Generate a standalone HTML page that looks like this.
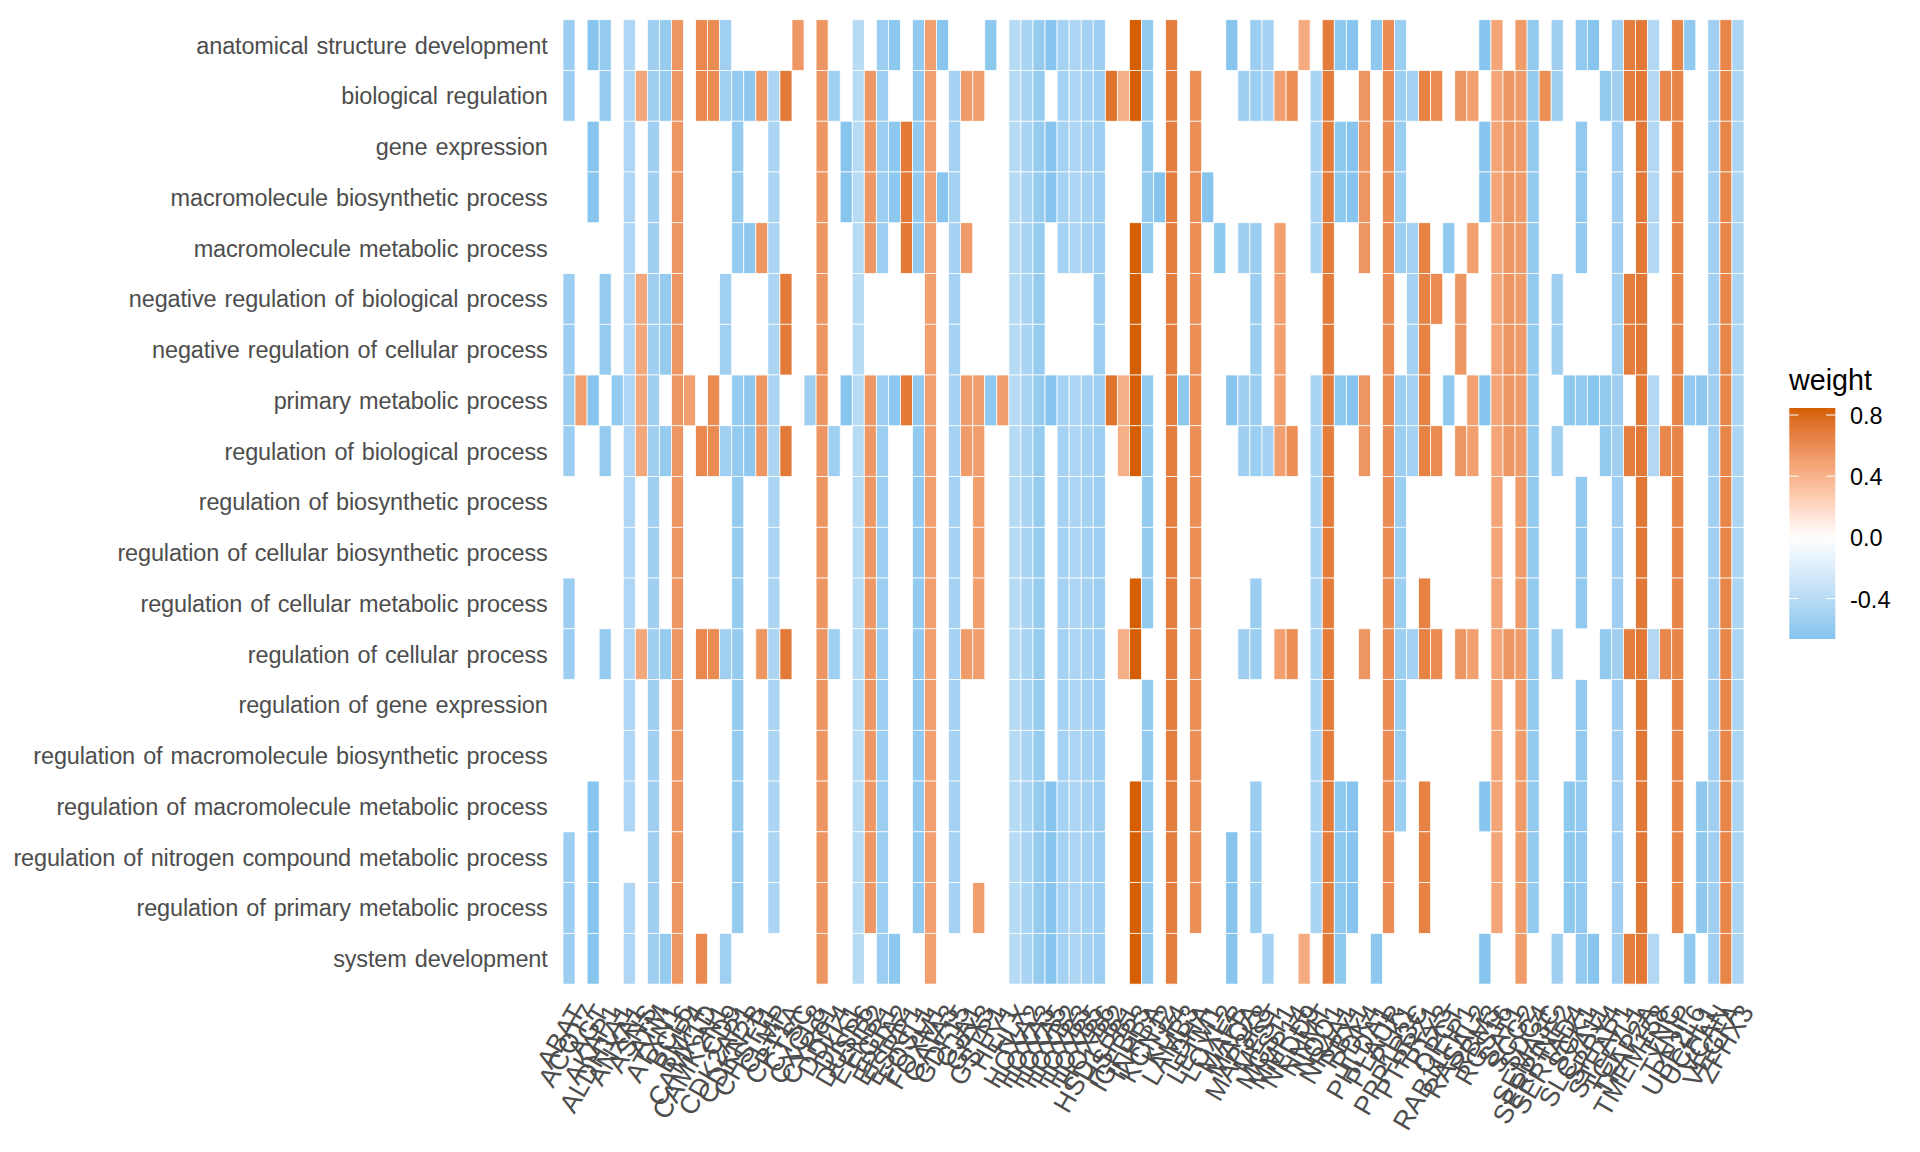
<!DOCTYPE html><html><head><meta charset="utf-8"><title>heatmap</title>
<style>html,body{margin:0;padding:0;background:#fff}svg{display:block}text{font-family:"Liberation Sans",Arial,Helvetica,sans-serif}</style></head><body>
<svg width="1920" height="1152" viewBox="0 0 1920 1152">
<rect width="1920" height="1152" fill="#fff"/>
<g stroke="#fff" stroke-width="0.75">
<rect x="563.00" y="19.70" width="12.05" height="50.76" fill="#9ccef1"/>
<rect x="587.10" y="19.70" width="12.05" height="50.76" fill="#87c5ee"/>
<rect x="599.15" y="19.70" width="12.05" height="50.76" fill="#96cbf0"/>
<rect x="623.26" y="19.70" width="12.05" height="50.76" fill="#afd6f4"/>
<rect x="647.36" y="19.70" width="12.05" height="50.76" fill="#a0cff2"/>
<rect x="659.41" y="19.70" width="12.05" height="50.76" fill="#96cbf0"/>
<rect x="671.46" y="19.70" width="12.05" height="50.76" fill="#ee9662"/>
<rect x="695.56" y="19.70" width="12.05" height="50.76" fill="#e9894f"/>
<rect x="707.61" y="19.70" width="12.05" height="50.76" fill="#ea8b51"/>
<rect x="719.66" y="19.70" width="12.05" height="50.76" fill="#a0cff2"/>
<rect x="791.97" y="19.70" width="12.05" height="50.76" fill="#ef9865"/>
<rect x="816.07" y="19.70" width="12.05" height="50.76" fill="#ee9662"/>
<rect x="852.22" y="19.70" width="12.05" height="50.76" fill="#b8dbf5"/>
<rect x="876.33" y="19.70" width="12.05" height="50.76" fill="#9ccef1"/>
<rect x="888.38" y="19.70" width="12.05" height="50.76" fill="#8dc8ef"/>
<rect x="912.48" y="19.70" width="12.05" height="50.76" fill="#93caf0"/>
<rect x="924.53" y="19.70" width="12.05" height="50.76" fill="#f2a070"/>
<rect x="936.58" y="19.70" width="12.05" height="50.76" fill="#87c5ee"/>
<rect x="984.79" y="19.70" width="12.05" height="50.76" fill="#8dc8ef"/>
<rect x="1008.89" y="19.70" width="12.05" height="50.76" fill="#b8dbf5"/>
<rect x="1020.94" y="19.70" width="12.05" height="50.76" fill="#a9d4f3"/>
<rect x="1032.99" y="19.70" width="12.05" height="50.76" fill="#96cbf0"/>
<rect x="1045.04" y="19.70" width="12.05" height="50.76" fill="#87c5ee"/>
<rect x="1057.09" y="19.70" width="12.05" height="50.76" fill="#a5d2f2"/>
<rect x="1069.14" y="19.70" width="12.05" height="50.76" fill="#abd5f3"/>
<rect x="1081.19" y="19.70" width="12.05" height="50.76" fill="#a5d2f2"/>
<rect x="1093.24" y="19.70" width="12.05" height="50.76" fill="#9ccef1"/>
<rect x="1129.40" y="19.70" width="12.05" height="50.76" fill="#d55e00"/>
<rect x="1141.45" y="19.70" width="12.05" height="50.76" fill="#93caf0"/>
<rect x="1165.55" y="19.70" width="12.05" height="50.76" fill="#e47e3e"/>
<rect x="1225.81" y="19.70" width="12.05" height="50.76" fill="#87c5ee"/>
<rect x="1249.91" y="19.70" width="12.05" height="50.76" fill="#9ccef1"/>
<rect x="1261.96" y="19.70" width="12.05" height="50.76" fill="#a5d2f2"/>
<rect x="1298.11" y="19.70" width="12.05" height="50.76" fill="#f5ab80"/>
<rect x="1322.21" y="19.70" width="12.05" height="50.76" fill="#e47c3b"/>
<rect x="1334.27" y="19.70" width="12.05" height="50.76" fill="#8dc8ef"/>
<rect x="1346.32" y="19.70" width="12.05" height="50.76" fill="#87c5ee"/>
<rect x="1370.42" y="19.70" width="12.05" height="50.76" fill="#8fc8ef"/>
<rect x="1382.47" y="19.70" width="12.05" height="50.76" fill="#eb8d54"/>
<rect x="1394.52" y="19.70" width="12.05" height="50.76" fill="#9ccef1"/>
<rect x="1478.88" y="19.70" width="12.05" height="50.76" fill="#87c5ee"/>
<rect x="1490.93" y="19.70" width="12.05" height="50.76" fill="#f4a578"/>
<rect x="1515.03" y="19.70" width="12.05" height="50.76" fill="#f09c6a"/>
<rect x="1527.08" y="19.70" width="12.05" height="50.76" fill="#93caf0"/>
<rect x="1551.18" y="19.70" width="12.05" height="50.76" fill="#a0cff2"/>
<rect x="1575.29" y="19.70" width="12.05" height="50.76" fill="#91c9f0"/>
<rect x="1587.34" y="19.70" width="12.05" height="50.76" fill="#87c5ee"/>
<rect x="1611.44" y="19.70" width="12.05" height="50.76" fill="#a0cff2"/>
<rect x="1623.49" y="19.70" width="12.05" height="50.76" fill="#e47e3e"/>
<rect x="1635.54" y="19.70" width="12.05" height="50.76" fill="#e27835"/>
<rect x="1647.59" y="19.70" width="12.05" height="50.76" fill="#b3d8f4"/>
<rect x="1671.69" y="19.70" width="12.05" height="50.76" fill="#e88549"/>
<rect x="1683.74" y="19.70" width="12.05" height="50.76" fill="#91c9f0"/>
<rect x="1707.85" y="19.70" width="12.05" height="50.76" fill="#a0cff2"/>
<rect x="1719.90" y="19.70" width="12.05" height="50.76" fill="#e88549"/>
<rect x="1731.95" y="19.70" width="12.05" height="50.76" fill="#abd5f3"/>
<rect x="563.00" y="70.46" width="12.05" height="50.76" fill="#9ccef1"/>
<rect x="599.15" y="70.46" width="12.05" height="50.76" fill="#96cbf0"/>
<rect x="623.26" y="70.46" width="12.05" height="50.76" fill="#afd6f4"/>
<rect x="635.31" y="70.46" width="12.05" height="50.76" fill="#f4a77b"/>
<rect x="647.36" y="70.46" width="12.05" height="50.76" fill="#a0cff2"/>
<rect x="659.41" y="70.46" width="12.05" height="50.76" fill="#96cbf0"/>
<rect x="671.46" y="70.46" width="12.05" height="50.76" fill="#ee9662"/>
<rect x="695.56" y="70.46" width="12.05" height="50.76" fill="#e9894f"/>
<rect x="707.61" y="70.46" width="12.05" height="50.76" fill="#ea8b51"/>
<rect x="719.66" y="70.46" width="12.05" height="50.76" fill="#a0cff2"/>
<rect x="731.71" y="70.46" width="12.05" height="50.76" fill="#96cbf0"/>
<rect x="743.77" y="70.46" width="12.05" height="50.76" fill="#8fc8ef"/>
<rect x="755.82" y="70.46" width="12.05" height="50.76" fill="#ee9662"/>
<rect x="767.87" y="70.46" width="12.05" height="50.76" fill="#abd5f3"/>
<rect x="779.92" y="70.46" width="12.05" height="50.76" fill="#e37a38"/>
<rect x="816.07" y="70.46" width="12.05" height="50.76" fill="#ee9662"/>
<rect x="828.12" y="70.46" width="12.05" height="50.76" fill="#9ecff1"/>
<rect x="852.22" y="70.46" width="12.05" height="50.76" fill="#b8dbf5"/>
<rect x="864.28" y="70.46" width="12.05" height="50.76" fill="#ef9865"/>
<rect x="876.33" y="70.46" width="12.05" height="50.76" fill="#9ccef1"/>
<rect x="912.48" y="70.46" width="12.05" height="50.76" fill="#93caf0"/>
<rect x="924.53" y="70.46" width="12.05" height="50.76" fill="#f2a070"/>
<rect x="948.63" y="70.46" width="12.05" height="50.76" fill="#a5d2f2"/>
<rect x="960.68" y="70.46" width="12.05" height="50.76" fill="#f09c6a"/>
<rect x="972.73" y="70.46" width="12.05" height="50.76" fill="#f19e6d"/>
<rect x="1008.89" y="70.46" width="12.05" height="50.76" fill="#b8dbf5"/>
<rect x="1020.94" y="70.46" width="12.05" height="50.76" fill="#a9d4f3"/>
<rect x="1032.99" y="70.46" width="12.05" height="50.76" fill="#96cbf0"/>
<rect x="1057.09" y="70.46" width="12.05" height="50.76" fill="#a5d2f2"/>
<rect x="1069.14" y="70.46" width="12.05" height="50.76" fill="#abd5f3"/>
<rect x="1081.19" y="70.46" width="12.05" height="50.76" fill="#a5d2f2"/>
<rect x="1093.24" y="70.46" width="12.05" height="50.76" fill="#9ccef1"/>
<rect x="1105.30" y="70.46" width="12.05" height="50.76" fill="#e0742f"/>
<rect x="1117.35" y="70.46" width="12.05" height="50.76" fill="#f6af86"/>
<rect x="1129.40" y="70.46" width="12.05" height="50.76" fill="#d55e00"/>
<rect x="1141.45" y="70.46" width="12.05" height="50.76" fill="#93caf0"/>
<rect x="1165.55" y="70.46" width="12.05" height="50.76" fill="#e47e3e"/>
<rect x="1189.65" y="70.46" width="12.05" height="50.76" fill="#ec8f57"/>
<rect x="1237.86" y="70.46" width="12.05" height="50.76" fill="#a0cff2"/>
<rect x="1249.91" y="70.46" width="12.05" height="50.76" fill="#9ccef1"/>
<rect x="1261.96" y="70.46" width="12.05" height="50.76" fill="#a5d2f2"/>
<rect x="1274.01" y="70.46" width="12.05" height="50.76" fill="#f2a070"/>
<rect x="1286.06" y="70.46" width="12.05" height="50.76" fill="#ec8f57"/>
<rect x="1310.16" y="70.46" width="12.05" height="50.76" fill="#a9d4f3"/>
<rect x="1322.21" y="70.46" width="12.05" height="50.76" fill="#e47c3b"/>
<rect x="1358.37" y="70.46" width="12.05" height="50.76" fill="#ee9662"/>
<rect x="1382.47" y="70.46" width="12.05" height="50.76" fill="#eb8d54"/>
<rect x="1394.52" y="70.46" width="12.05" height="50.76" fill="#9ccef1"/>
<rect x="1406.57" y="70.46" width="12.05" height="50.76" fill="#a5d2f2"/>
<rect x="1418.62" y="70.46" width="12.05" height="50.76" fill="#e68244"/>
<rect x="1430.67" y="70.46" width="12.05" height="50.76" fill="#ea8b51"/>
<rect x="1454.78" y="70.46" width="12.05" height="50.76" fill="#ee9662"/>
<rect x="1466.83" y="70.46" width="12.05" height="50.76" fill="#f2a070"/>
<rect x="1490.93" y="70.46" width="12.05" height="50.76" fill="#f4a578"/>
<rect x="1502.98" y="70.46" width="12.05" height="50.76" fill="#ee9662"/>
<rect x="1515.03" y="70.46" width="12.05" height="50.76" fill="#f09c6a"/>
<rect x="1527.08" y="70.46" width="12.05" height="50.76" fill="#93caf0"/>
<rect x="1539.13" y="70.46" width="12.05" height="50.76" fill="#ec8f57"/>
<rect x="1551.18" y="70.46" width="12.05" height="50.76" fill="#a0cff2"/>
<rect x="1599.39" y="70.46" width="12.05" height="50.76" fill="#93caf0"/>
<rect x="1611.44" y="70.46" width="12.05" height="50.76" fill="#a0cff2"/>
<rect x="1623.49" y="70.46" width="12.05" height="50.76" fill="#e47e3e"/>
<rect x="1635.54" y="70.46" width="12.05" height="50.76" fill="#e27835"/>
<rect x="1647.59" y="70.46" width="12.05" height="50.76" fill="#b3d8f4"/>
<rect x="1659.64" y="70.46" width="12.05" height="50.76" fill="#e9874c"/>
<rect x="1671.69" y="70.46" width="12.05" height="50.76" fill="#e88549"/>
<rect x="1707.85" y="70.46" width="12.05" height="50.76" fill="#a0cff2"/>
<rect x="1719.90" y="70.46" width="12.05" height="50.76" fill="#e88549"/>
<rect x="1731.95" y="70.46" width="12.05" height="50.76" fill="#abd5f3"/>
<rect x="587.10" y="121.22" width="12.05" height="50.76" fill="#87c5ee"/>
<rect x="623.26" y="121.22" width="12.05" height="50.76" fill="#afd6f4"/>
<rect x="647.36" y="121.22" width="12.05" height="50.76" fill="#a0cff2"/>
<rect x="671.46" y="121.22" width="12.05" height="50.76" fill="#ee9662"/>
<rect x="731.71" y="121.22" width="12.05" height="50.76" fill="#96cbf0"/>
<rect x="767.87" y="121.22" width="12.05" height="50.76" fill="#abd5f3"/>
<rect x="816.07" y="121.22" width="12.05" height="50.76" fill="#ee9662"/>
<rect x="840.17" y="121.22" width="12.05" height="50.76" fill="#87c5ee"/>
<rect x="852.22" y="121.22" width="12.05" height="50.76" fill="#b8dbf5"/>
<rect x="864.28" y="121.22" width="12.05" height="50.76" fill="#ef9865"/>
<rect x="876.33" y="121.22" width="12.05" height="50.76" fill="#9ccef1"/>
<rect x="888.38" y="121.22" width="12.05" height="50.76" fill="#8dc8ef"/>
<rect x="900.43" y="121.22" width="12.05" height="50.76" fill="#e37a38"/>
<rect x="912.48" y="121.22" width="12.05" height="50.76" fill="#93caf0"/>
<rect x="924.53" y="121.22" width="12.05" height="50.76" fill="#f2a070"/>
<rect x="948.63" y="121.22" width="12.05" height="50.76" fill="#a5d2f2"/>
<rect x="1008.89" y="121.22" width="12.05" height="50.76" fill="#b8dbf5"/>
<rect x="1020.94" y="121.22" width="12.05" height="50.76" fill="#a9d4f3"/>
<rect x="1032.99" y="121.22" width="12.05" height="50.76" fill="#96cbf0"/>
<rect x="1045.04" y="121.22" width="12.05" height="50.76" fill="#87c5ee"/>
<rect x="1057.09" y="121.22" width="12.05" height="50.76" fill="#a5d2f2"/>
<rect x="1069.14" y="121.22" width="12.05" height="50.76" fill="#abd5f3"/>
<rect x="1081.19" y="121.22" width="12.05" height="50.76" fill="#a5d2f2"/>
<rect x="1093.24" y="121.22" width="12.05" height="50.76" fill="#9ccef1"/>
<rect x="1141.45" y="121.22" width="12.05" height="50.76" fill="#93caf0"/>
<rect x="1165.55" y="121.22" width="12.05" height="50.76" fill="#e47e3e"/>
<rect x="1189.65" y="121.22" width="12.05" height="50.76" fill="#ec8f57"/>
<rect x="1310.16" y="121.22" width="12.05" height="50.76" fill="#a9d4f3"/>
<rect x="1322.21" y="121.22" width="12.05" height="50.76" fill="#e47c3b"/>
<rect x="1334.27" y="121.22" width="12.05" height="50.76" fill="#8dc8ef"/>
<rect x="1346.32" y="121.22" width="12.05" height="50.76" fill="#87c5ee"/>
<rect x="1358.37" y="121.22" width="12.05" height="50.76" fill="#ee9662"/>
<rect x="1382.47" y="121.22" width="12.05" height="50.76" fill="#eb8d54"/>
<rect x="1394.52" y="121.22" width="12.05" height="50.76" fill="#9ccef1"/>
<rect x="1478.88" y="121.22" width="12.05" height="50.76" fill="#87c5ee"/>
<rect x="1490.93" y="121.22" width="12.05" height="50.76" fill="#f4a578"/>
<rect x="1502.98" y="121.22" width="12.05" height="50.76" fill="#ee9662"/>
<rect x="1515.03" y="121.22" width="12.05" height="50.76" fill="#f09c6a"/>
<rect x="1527.08" y="121.22" width="12.05" height="50.76" fill="#93caf0"/>
<rect x="1575.29" y="121.22" width="12.05" height="50.76" fill="#91c9f0"/>
<rect x="1611.44" y="121.22" width="12.05" height="50.76" fill="#a0cff2"/>
<rect x="1635.54" y="121.22" width="12.05" height="50.76" fill="#e27835"/>
<rect x="1647.59" y="121.22" width="12.05" height="50.76" fill="#b3d8f4"/>
<rect x="1671.69" y="121.22" width="12.05" height="50.76" fill="#e88549"/>
<rect x="1707.85" y="121.22" width="12.05" height="50.76" fill="#a0cff2"/>
<rect x="1719.90" y="121.22" width="12.05" height="50.76" fill="#e88549"/>
<rect x="1731.95" y="121.22" width="12.05" height="50.76" fill="#abd5f3"/>
<rect x="587.10" y="171.97" width="12.05" height="50.76" fill="#87c5ee"/>
<rect x="623.26" y="171.97" width="12.05" height="50.76" fill="#afd6f4"/>
<rect x="647.36" y="171.97" width="12.05" height="50.76" fill="#a0cff2"/>
<rect x="671.46" y="171.97" width="12.05" height="50.76" fill="#ee9662"/>
<rect x="731.71" y="171.97" width="12.05" height="50.76" fill="#96cbf0"/>
<rect x="767.87" y="171.97" width="12.05" height="50.76" fill="#abd5f3"/>
<rect x="816.07" y="171.97" width="12.05" height="50.76" fill="#ee9662"/>
<rect x="840.17" y="171.97" width="12.05" height="50.76" fill="#87c5ee"/>
<rect x="852.22" y="171.97" width="12.05" height="50.76" fill="#b8dbf5"/>
<rect x="864.28" y="171.97" width="12.05" height="50.76" fill="#ef9865"/>
<rect x="876.33" y="171.97" width="12.05" height="50.76" fill="#9ccef1"/>
<rect x="888.38" y="171.97" width="12.05" height="50.76" fill="#8dc8ef"/>
<rect x="900.43" y="171.97" width="12.05" height="50.76" fill="#e37a38"/>
<rect x="912.48" y="171.97" width="12.05" height="50.76" fill="#93caf0"/>
<rect x="924.53" y="171.97" width="12.05" height="50.76" fill="#f2a070"/>
<rect x="936.58" y="171.97" width="12.05" height="50.76" fill="#87c5ee"/>
<rect x="948.63" y="171.97" width="12.05" height="50.76" fill="#a5d2f2"/>
<rect x="1008.89" y="171.97" width="12.05" height="50.76" fill="#b8dbf5"/>
<rect x="1020.94" y="171.97" width="12.05" height="50.76" fill="#a9d4f3"/>
<rect x="1032.99" y="171.97" width="12.05" height="50.76" fill="#96cbf0"/>
<rect x="1045.04" y="171.97" width="12.05" height="50.76" fill="#87c5ee"/>
<rect x="1057.09" y="171.97" width="12.05" height="50.76" fill="#a5d2f2"/>
<rect x="1069.14" y="171.97" width="12.05" height="50.76" fill="#abd5f3"/>
<rect x="1081.19" y="171.97" width="12.05" height="50.76" fill="#a5d2f2"/>
<rect x="1093.24" y="171.97" width="12.05" height="50.76" fill="#9ccef1"/>
<rect x="1141.45" y="171.97" width="12.05" height="50.76" fill="#93caf0"/>
<rect x="1153.50" y="171.97" width="12.05" height="50.76" fill="#87c5ee"/>
<rect x="1165.55" y="171.97" width="12.05" height="50.76" fill="#e47e3e"/>
<rect x="1189.65" y="171.97" width="12.05" height="50.76" fill="#ec8f57"/>
<rect x="1201.70" y="171.97" width="12.05" height="50.76" fill="#87c5ee"/>
<rect x="1310.16" y="171.97" width="12.05" height="50.76" fill="#a9d4f3"/>
<rect x="1322.21" y="171.97" width="12.05" height="50.76" fill="#e47c3b"/>
<rect x="1334.27" y="171.97" width="12.05" height="50.76" fill="#8dc8ef"/>
<rect x="1346.32" y="171.97" width="12.05" height="50.76" fill="#87c5ee"/>
<rect x="1358.37" y="171.97" width="12.05" height="50.76" fill="#ee9662"/>
<rect x="1382.47" y="171.97" width="12.05" height="50.76" fill="#eb8d54"/>
<rect x="1394.52" y="171.97" width="12.05" height="50.76" fill="#9ccef1"/>
<rect x="1478.88" y="171.97" width="12.05" height="50.76" fill="#87c5ee"/>
<rect x="1490.93" y="171.97" width="12.05" height="50.76" fill="#f4a578"/>
<rect x="1502.98" y="171.97" width="12.05" height="50.76" fill="#ee9662"/>
<rect x="1515.03" y="171.97" width="12.05" height="50.76" fill="#f09c6a"/>
<rect x="1527.08" y="171.97" width="12.05" height="50.76" fill="#93caf0"/>
<rect x="1575.29" y="171.97" width="12.05" height="50.76" fill="#91c9f0"/>
<rect x="1611.44" y="171.97" width="12.05" height="50.76" fill="#a0cff2"/>
<rect x="1635.54" y="171.97" width="12.05" height="50.76" fill="#e27835"/>
<rect x="1647.59" y="171.97" width="12.05" height="50.76" fill="#b3d8f4"/>
<rect x="1671.69" y="171.97" width="12.05" height="50.76" fill="#e88549"/>
<rect x="1707.85" y="171.97" width="12.05" height="50.76" fill="#a0cff2"/>
<rect x="1719.90" y="171.97" width="12.05" height="50.76" fill="#e88549"/>
<rect x="1731.95" y="171.97" width="12.05" height="50.76" fill="#abd5f3"/>
<rect x="623.26" y="222.73" width="12.05" height="50.76" fill="#afd6f4"/>
<rect x="647.36" y="222.73" width="12.05" height="50.76" fill="#a0cff2"/>
<rect x="671.46" y="222.73" width="12.05" height="50.76" fill="#ee9662"/>
<rect x="731.71" y="222.73" width="12.05" height="50.76" fill="#96cbf0"/>
<rect x="743.77" y="222.73" width="12.05" height="50.76" fill="#8fc8ef"/>
<rect x="755.82" y="222.73" width="12.05" height="50.76" fill="#ee9662"/>
<rect x="767.87" y="222.73" width="12.05" height="50.76" fill="#abd5f3"/>
<rect x="816.07" y="222.73" width="12.05" height="50.76" fill="#ee9662"/>
<rect x="852.22" y="222.73" width="12.05" height="50.76" fill="#b8dbf5"/>
<rect x="864.28" y="222.73" width="12.05" height="50.76" fill="#ef9865"/>
<rect x="876.33" y="222.73" width="12.05" height="50.76" fill="#9ccef1"/>
<rect x="900.43" y="222.73" width="12.05" height="50.76" fill="#e37a38"/>
<rect x="912.48" y="222.73" width="12.05" height="50.76" fill="#93caf0"/>
<rect x="924.53" y="222.73" width="12.05" height="50.76" fill="#f2a070"/>
<rect x="948.63" y="222.73" width="12.05" height="50.76" fill="#a5d2f2"/>
<rect x="960.68" y="222.73" width="12.05" height="50.76" fill="#f09c6a"/>
<rect x="1008.89" y="222.73" width="12.05" height="50.76" fill="#b8dbf5"/>
<rect x="1020.94" y="222.73" width="12.05" height="50.76" fill="#a9d4f3"/>
<rect x="1032.99" y="222.73" width="12.05" height="50.76" fill="#96cbf0"/>
<rect x="1057.09" y="222.73" width="12.05" height="50.76" fill="#a5d2f2"/>
<rect x="1069.14" y="222.73" width="12.05" height="50.76" fill="#abd5f3"/>
<rect x="1081.19" y="222.73" width="12.05" height="50.76" fill="#a5d2f2"/>
<rect x="1093.24" y="222.73" width="12.05" height="50.76" fill="#9ccef1"/>
<rect x="1129.40" y="222.73" width="12.05" height="50.76" fill="#d55e00"/>
<rect x="1141.45" y="222.73" width="12.05" height="50.76" fill="#93caf0"/>
<rect x="1165.55" y="222.73" width="12.05" height="50.76" fill="#e47e3e"/>
<rect x="1189.65" y="222.73" width="12.05" height="50.76" fill="#ec8f57"/>
<rect x="1213.76" y="222.73" width="12.05" height="50.76" fill="#8dc8ef"/>
<rect x="1237.86" y="222.73" width="12.05" height="50.76" fill="#a0cff2"/>
<rect x="1249.91" y="222.73" width="12.05" height="50.76" fill="#9ccef1"/>
<rect x="1274.01" y="222.73" width="12.05" height="50.76" fill="#f2a070"/>
<rect x="1310.16" y="222.73" width="12.05" height="50.76" fill="#a9d4f3"/>
<rect x="1322.21" y="222.73" width="12.05" height="50.76" fill="#e47c3b"/>
<rect x="1358.37" y="222.73" width="12.05" height="50.76" fill="#ee9662"/>
<rect x="1382.47" y="222.73" width="12.05" height="50.76" fill="#eb8d54"/>
<rect x="1394.52" y="222.73" width="12.05" height="50.76" fill="#9ccef1"/>
<rect x="1406.57" y="222.73" width="12.05" height="50.76" fill="#a5d2f2"/>
<rect x="1418.62" y="222.73" width="12.05" height="50.76" fill="#e68244"/>
<rect x="1442.72" y="222.73" width="12.05" height="50.76" fill="#91c9f0"/>
<rect x="1466.83" y="222.73" width="12.05" height="50.76" fill="#f2a070"/>
<rect x="1490.93" y="222.73" width="12.05" height="50.76" fill="#f4a578"/>
<rect x="1502.98" y="222.73" width="12.05" height="50.76" fill="#ee9662"/>
<rect x="1515.03" y="222.73" width="12.05" height="50.76" fill="#f09c6a"/>
<rect x="1527.08" y="222.73" width="12.05" height="50.76" fill="#93caf0"/>
<rect x="1575.29" y="222.73" width="12.05" height="50.76" fill="#91c9f0"/>
<rect x="1611.44" y="222.73" width="12.05" height="50.76" fill="#a0cff2"/>
<rect x="1635.54" y="222.73" width="12.05" height="50.76" fill="#e27835"/>
<rect x="1647.59" y="222.73" width="12.05" height="50.76" fill="#b3d8f4"/>
<rect x="1671.69" y="222.73" width="12.05" height="50.76" fill="#e88549"/>
<rect x="1707.85" y="222.73" width="12.05" height="50.76" fill="#a0cff2"/>
<rect x="1719.90" y="222.73" width="12.05" height="50.76" fill="#e88549"/>
<rect x="1731.95" y="222.73" width="12.05" height="50.76" fill="#abd5f3"/>
<rect x="563.00" y="273.49" width="12.05" height="50.76" fill="#9ccef1"/>
<rect x="599.15" y="273.49" width="12.05" height="50.76" fill="#96cbf0"/>
<rect x="623.26" y="273.49" width="12.05" height="50.76" fill="#afd6f4"/>
<rect x="635.31" y="273.49" width="12.05" height="50.76" fill="#f4a77b"/>
<rect x="647.36" y="273.49" width="12.05" height="50.76" fill="#a0cff2"/>
<rect x="659.41" y="273.49" width="12.05" height="50.76" fill="#96cbf0"/>
<rect x="671.46" y="273.49" width="12.05" height="50.76" fill="#ee9662"/>
<rect x="719.66" y="273.49" width="12.05" height="50.76" fill="#a0cff2"/>
<rect x="767.87" y="273.49" width="12.05" height="50.76" fill="#abd5f3"/>
<rect x="779.92" y="273.49" width="12.05" height="50.76" fill="#e37a38"/>
<rect x="816.07" y="273.49" width="12.05" height="50.76" fill="#ee9662"/>
<rect x="852.22" y="273.49" width="12.05" height="50.76" fill="#b8dbf5"/>
<rect x="924.53" y="273.49" width="12.05" height="50.76" fill="#f2a070"/>
<rect x="948.63" y="273.49" width="12.05" height="50.76" fill="#a5d2f2"/>
<rect x="1008.89" y="273.49" width="12.05" height="50.76" fill="#b8dbf5"/>
<rect x="1020.94" y="273.49" width="12.05" height="50.76" fill="#a9d4f3"/>
<rect x="1032.99" y="273.49" width="12.05" height="50.76" fill="#96cbf0"/>
<rect x="1093.24" y="273.49" width="12.05" height="50.76" fill="#9ccef1"/>
<rect x="1129.40" y="273.49" width="12.05" height="50.76" fill="#d55e00"/>
<rect x="1165.55" y="273.49" width="12.05" height="50.76" fill="#e47e3e"/>
<rect x="1189.65" y="273.49" width="12.05" height="50.76" fill="#ec8f57"/>
<rect x="1249.91" y="273.49" width="12.05" height="50.76" fill="#9ccef1"/>
<rect x="1274.01" y="273.49" width="12.05" height="50.76" fill="#f2a070"/>
<rect x="1322.21" y="273.49" width="12.05" height="50.76" fill="#e47c3b"/>
<rect x="1382.47" y="273.49" width="12.05" height="50.76" fill="#eb8d54"/>
<rect x="1406.57" y="273.49" width="12.05" height="50.76" fill="#a5d2f2"/>
<rect x="1418.62" y="273.49" width="12.05" height="50.76" fill="#e68244"/>
<rect x="1430.67" y="273.49" width="12.05" height="50.76" fill="#ea8b51"/>
<rect x="1454.78" y="273.49" width="12.05" height="50.76" fill="#ee9662"/>
<rect x="1490.93" y="273.49" width="12.05" height="50.76" fill="#f4a578"/>
<rect x="1502.98" y="273.49" width="12.05" height="50.76" fill="#ee9662"/>
<rect x="1515.03" y="273.49" width="12.05" height="50.76" fill="#f09c6a"/>
<rect x="1527.08" y="273.49" width="12.05" height="50.76" fill="#93caf0"/>
<rect x="1551.18" y="273.49" width="12.05" height="50.76" fill="#a0cff2"/>
<rect x="1611.44" y="273.49" width="12.05" height="50.76" fill="#a0cff2"/>
<rect x="1623.49" y="273.49" width="12.05" height="50.76" fill="#e47e3e"/>
<rect x="1635.54" y="273.49" width="12.05" height="50.76" fill="#e27835"/>
<rect x="1671.69" y="273.49" width="12.05" height="50.76" fill="#e88549"/>
<rect x="1707.85" y="273.49" width="12.05" height="50.76" fill="#a0cff2"/>
<rect x="1719.90" y="273.49" width="12.05" height="50.76" fill="#e88549"/>
<rect x="1731.95" y="273.49" width="12.05" height="50.76" fill="#abd5f3"/>
<rect x="563.00" y="324.25" width="12.05" height="50.76" fill="#9ccef1"/>
<rect x="599.15" y="324.25" width="12.05" height="50.76" fill="#96cbf0"/>
<rect x="623.26" y="324.25" width="12.05" height="50.76" fill="#afd6f4"/>
<rect x="635.31" y="324.25" width="12.05" height="50.76" fill="#f4a77b"/>
<rect x="647.36" y="324.25" width="12.05" height="50.76" fill="#a0cff2"/>
<rect x="659.41" y="324.25" width="12.05" height="50.76" fill="#96cbf0"/>
<rect x="671.46" y="324.25" width="12.05" height="50.76" fill="#ee9662"/>
<rect x="719.66" y="324.25" width="12.05" height="50.76" fill="#a0cff2"/>
<rect x="767.87" y="324.25" width="12.05" height="50.76" fill="#abd5f3"/>
<rect x="779.92" y="324.25" width="12.05" height="50.76" fill="#e37a38"/>
<rect x="816.07" y="324.25" width="12.05" height="50.76" fill="#ee9662"/>
<rect x="852.22" y="324.25" width="12.05" height="50.76" fill="#b8dbf5"/>
<rect x="924.53" y="324.25" width="12.05" height="50.76" fill="#f2a070"/>
<rect x="948.63" y="324.25" width="12.05" height="50.76" fill="#a5d2f2"/>
<rect x="1008.89" y="324.25" width="12.05" height="50.76" fill="#b8dbf5"/>
<rect x="1020.94" y="324.25" width="12.05" height="50.76" fill="#a9d4f3"/>
<rect x="1032.99" y="324.25" width="12.05" height="50.76" fill="#96cbf0"/>
<rect x="1093.24" y="324.25" width="12.05" height="50.76" fill="#9ccef1"/>
<rect x="1129.40" y="324.25" width="12.05" height="50.76" fill="#d55e00"/>
<rect x="1165.55" y="324.25" width="12.05" height="50.76" fill="#e47e3e"/>
<rect x="1189.65" y="324.25" width="12.05" height="50.76" fill="#ec8f57"/>
<rect x="1249.91" y="324.25" width="12.05" height="50.76" fill="#9ccef1"/>
<rect x="1274.01" y="324.25" width="12.05" height="50.76" fill="#f2a070"/>
<rect x="1322.21" y="324.25" width="12.05" height="50.76" fill="#e47c3b"/>
<rect x="1382.47" y="324.25" width="12.05" height="50.76" fill="#eb8d54"/>
<rect x="1406.57" y="324.25" width="12.05" height="50.76" fill="#a5d2f2"/>
<rect x="1418.62" y="324.25" width="12.05" height="50.76" fill="#e68244"/>
<rect x="1454.78" y="324.25" width="12.05" height="50.76" fill="#ee9662"/>
<rect x="1490.93" y="324.25" width="12.05" height="50.76" fill="#f4a578"/>
<rect x="1502.98" y="324.25" width="12.05" height="50.76" fill="#ee9662"/>
<rect x="1515.03" y="324.25" width="12.05" height="50.76" fill="#f09c6a"/>
<rect x="1527.08" y="324.25" width="12.05" height="50.76" fill="#93caf0"/>
<rect x="1551.18" y="324.25" width="12.05" height="50.76" fill="#a0cff2"/>
<rect x="1611.44" y="324.25" width="12.05" height="50.76" fill="#a0cff2"/>
<rect x="1623.49" y="324.25" width="12.05" height="50.76" fill="#e47e3e"/>
<rect x="1635.54" y="324.25" width="12.05" height="50.76" fill="#e27835"/>
<rect x="1671.69" y="324.25" width="12.05" height="50.76" fill="#e88549"/>
<rect x="1707.85" y="324.25" width="12.05" height="50.76" fill="#a0cff2"/>
<rect x="1719.90" y="324.25" width="12.05" height="50.76" fill="#e88549"/>
<rect x="1731.95" y="324.25" width="12.05" height="50.76" fill="#abd5f3"/>
<rect x="563.00" y="375.01" width="12.05" height="50.76" fill="#9ccef1"/>
<rect x="575.05" y="375.01" width="12.05" height="50.76" fill="#f2a070"/>
<rect x="587.10" y="375.01" width="12.05" height="50.76" fill="#87c5ee"/>
<rect x="611.20" y="375.01" width="12.05" height="50.76" fill="#91c9f0"/>
<rect x="623.26" y="375.01" width="12.05" height="50.76" fill="#afd6f4"/>
<rect x="635.31" y="375.01" width="12.05" height="50.76" fill="#f4a77b"/>
<rect x="647.36" y="375.01" width="12.05" height="50.76" fill="#a0cff2"/>
<rect x="671.46" y="375.01" width="12.05" height="50.76" fill="#ee9662"/>
<rect x="683.51" y="375.01" width="12.05" height="50.76" fill="#f2a070"/>
<rect x="707.61" y="375.01" width="12.05" height="50.76" fill="#ea8b51"/>
<rect x="731.71" y="375.01" width="12.05" height="50.76" fill="#96cbf0"/>
<rect x="743.77" y="375.01" width="12.05" height="50.76" fill="#8fc8ef"/>
<rect x="755.82" y="375.01" width="12.05" height="50.76" fill="#ee9662"/>
<rect x="767.87" y="375.01" width="12.05" height="50.76" fill="#abd5f3"/>
<rect x="804.02" y="375.01" width="12.05" height="50.76" fill="#a0cff2"/>
<rect x="816.07" y="375.01" width="12.05" height="50.76" fill="#ee9662"/>
<rect x="840.17" y="375.01" width="12.05" height="50.76" fill="#87c5ee"/>
<rect x="852.22" y="375.01" width="12.05" height="50.76" fill="#b8dbf5"/>
<rect x="864.28" y="375.01" width="12.05" height="50.76" fill="#ef9865"/>
<rect x="876.33" y="375.01" width="12.05" height="50.76" fill="#9ccef1"/>
<rect x="888.38" y="375.01" width="12.05" height="50.76" fill="#8dc8ef"/>
<rect x="900.43" y="375.01" width="12.05" height="50.76" fill="#e37a38"/>
<rect x="912.48" y="375.01" width="12.05" height="50.76" fill="#93caf0"/>
<rect x="924.53" y="375.01" width="12.05" height="50.76" fill="#f2a070"/>
<rect x="948.63" y="375.01" width="12.05" height="50.76" fill="#a5d2f2"/>
<rect x="960.68" y="375.01" width="12.05" height="50.76" fill="#f09c6a"/>
<rect x="972.73" y="375.01" width="12.05" height="50.76" fill="#f19e6d"/>
<rect x="984.79" y="375.01" width="12.05" height="50.76" fill="#8dc8ef"/>
<rect x="996.84" y="375.01" width="12.05" height="50.76" fill="#f19e6d"/>
<rect x="1008.89" y="375.01" width="12.05" height="50.76" fill="#b8dbf5"/>
<rect x="1020.94" y="375.01" width="12.05" height="50.76" fill="#a9d4f3"/>
<rect x="1032.99" y="375.01" width="12.05" height="50.76" fill="#96cbf0"/>
<rect x="1045.04" y="375.01" width="12.05" height="50.76" fill="#87c5ee"/>
<rect x="1057.09" y="375.01" width="12.05" height="50.76" fill="#a5d2f2"/>
<rect x="1069.14" y="375.01" width="12.05" height="50.76" fill="#abd5f3"/>
<rect x="1081.19" y="375.01" width="12.05" height="50.76" fill="#a5d2f2"/>
<rect x="1093.24" y="375.01" width="12.05" height="50.76" fill="#9ccef1"/>
<rect x="1105.30" y="375.01" width="12.05" height="50.76" fill="#e0742f"/>
<rect x="1117.35" y="375.01" width="12.05" height="50.76" fill="#f6af86"/>
<rect x="1129.40" y="375.01" width="12.05" height="50.76" fill="#d55e00"/>
<rect x="1141.45" y="375.01" width="12.05" height="50.76" fill="#93caf0"/>
<rect x="1165.55" y="375.01" width="12.05" height="50.76" fill="#e47e3e"/>
<rect x="1177.60" y="375.01" width="12.05" height="50.76" fill="#8dc8ef"/>
<rect x="1189.65" y="375.01" width="12.05" height="50.76" fill="#ec8f57"/>
<rect x="1225.81" y="375.01" width="12.05" height="50.76" fill="#87c5ee"/>
<rect x="1237.86" y="375.01" width="12.05" height="50.76" fill="#a0cff2"/>
<rect x="1249.91" y="375.01" width="12.05" height="50.76" fill="#9ccef1"/>
<rect x="1274.01" y="375.01" width="12.05" height="50.76" fill="#f2a070"/>
<rect x="1310.16" y="375.01" width="12.05" height="50.76" fill="#a9d4f3"/>
<rect x="1322.21" y="375.01" width="12.05" height="50.76" fill="#e47c3b"/>
<rect x="1334.27" y="375.01" width="12.05" height="50.76" fill="#8dc8ef"/>
<rect x="1346.32" y="375.01" width="12.05" height="50.76" fill="#87c5ee"/>
<rect x="1358.37" y="375.01" width="12.05" height="50.76" fill="#ee9662"/>
<rect x="1382.47" y="375.01" width="12.05" height="50.76" fill="#eb8d54"/>
<rect x="1394.52" y="375.01" width="12.05" height="50.76" fill="#9ccef1"/>
<rect x="1406.57" y="375.01" width="12.05" height="50.76" fill="#a5d2f2"/>
<rect x="1418.62" y="375.01" width="12.05" height="50.76" fill="#e68244"/>
<rect x="1442.72" y="375.01" width="12.05" height="50.76" fill="#91c9f0"/>
<rect x="1466.83" y="375.01" width="12.05" height="50.76" fill="#f2a070"/>
<rect x="1478.88" y="375.01" width="12.05" height="50.76" fill="#87c5ee"/>
<rect x="1490.93" y="375.01" width="12.05" height="50.76" fill="#f4a578"/>
<rect x="1502.98" y="375.01" width="12.05" height="50.76" fill="#ee9662"/>
<rect x="1515.03" y="375.01" width="12.05" height="50.76" fill="#f09c6a"/>
<rect x="1527.08" y="375.01" width="12.05" height="50.76" fill="#93caf0"/>
<rect x="1563.23" y="375.01" width="12.05" height="50.76" fill="#8dc8ef"/>
<rect x="1575.29" y="375.01" width="12.05" height="50.76" fill="#91c9f0"/>
<rect x="1587.34" y="375.01" width="12.05" height="50.76" fill="#87c5ee"/>
<rect x="1599.39" y="375.01" width="12.05" height="50.76" fill="#93caf0"/>
<rect x="1611.44" y="375.01" width="12.05" height="50.76" fill="#a0cff2"/>
<rect x="1635.54" y="375.01" width="12.05" height="50.76" fill="#e27835"/>
<rect x="1647.59" y="375.01" width="12.05" height="50.76" fill="#b3d8f4"/>
<rect x="1671.69" y="375.01" width="12.05" height="50.76" fill="#e88549"/>
<rect x="1683.74" y="375.01" width="12.05" height="50.76" fill="#91c9f0"/>
<rect x="1695.80" y="375.01" width="12.05" height="50.76" fill="#8fc8ef"/>
<rect x="1707.85" y="375.01" width="12.05" height="50.76" fill="#a0cff2"/>
<rect x="1719.90" y="375.01" width="12.05" height="50.76" fill="#e88549"/>
<rect x="1731.95" y="375.01" width="12.05" height="50.76" fill="#abd5f3"/>
<rect x="563.00" y="425.76" width="12.05" height="50.76" fill="#9ccef1"/>
<rect x="599.15" y="425.76" width="12.05" height="50.76" fill="#96cbf0"/>
<rect x="623.26" y="425.76" width="12.05" height="50.76" fill="#afd6f4"/>
<rect x="635.31" y="425.76" width="12.05" height="50.76" fill="#f4a77b"/>
<rect x="647.36" y="425.76" width="12.05" height="50.76" fill="#a0cff2"/>
<rect x="659.41" y="425.76" width="12.05" height="50.76" fill="#96cbf0"/>
<rect x="671.46" y="425.76" width="12.05" height="50.76" fill="#ee9662"/>
<rect x="695.56" y="425.76" width="12.05" height="50.76" fill="#e9894f"/>
<rect x="707.61" y="425.76" width="12.05" height="50.76" fill="#ea8b51"/>
<rect x="719.66" y="425.76" width="12.05" height="50.76" fill="#a0cff2"/>
<rect x="731.71" y="425.76" width="12.05" height="50.76" fill="#96cbf0"/>
<rect x="743.77" y="425.76" width="12.05" height="50.76" fill="#8fc8ef"/>
<rect x="755.82" y="425.76" width="12.05" height="50.76" fill="#ee9662"/>
<rect x="767.87" y="425.76" width="12.05" height="50.76" fill="#abd5f3"/>
<rect x="779.92" y="425.76" width="12.05" height="50.76" fill="#e37a38"/>
<rect x="816.07" y="425.76" width="12.05" height="50.76" fill="#ee9662"/>
<rect x="828.12" y="425.76" width="12.05" height="50.76" fill="#9ecff1"/>
<rect x="852.22" y="425.76" width="12.05" height="50.76" fill="#b8dbf5"/>
<rect x="864.28" y="425.76" width="12.05" height="50.76" fill="#ef9865"/>
<rect x="876.33" y="425.76" width="12.05" height="50.76" fill="#9ccef1"/>
<rect x="912.48" y="425.76" width="12.05" height="50.76" fill="#93caf0"/>
<rect x="924.53" y="425.76" width="12.05" height="50.76" fill="#f2a070"/>
<rect x="948.63" y="425.76" width="12.05" height="50.76" fill="#a5d2f2"/>
<rect x="960.68" y="425.76" width="12.05" height="50.76" fill="#f09c6a"/>
<rect x="972.73" y="425.76" width="12.05" height="50.76" fill="#f19e6d"/>
<rect x="1008.89" y="425.76" width="12.05" height="50.76" fill="#b8dbf5"/>
<rect x="1020.94" y="425.76" width="12.05" height="50.76" fill="#a9d4f3"/>
<rect x="1032.99" y="425.76" width="12.05" height="50.76" fill="#96cbf0"/>
<rect x="1057.09" y="425.76" width="12.05" height="50.76" fill="#a5d2f2"/>
<rect x="1069.14" y="425.76" width="12.05" height="50.76" fill="#abd5f3"/>
<rect x="1081.19" y="425.76" width="12.05" height="50.76" fill="#a5d2f2"/>
<rect x="1093.24" y="425.76" width="12.05" height="50.76" fill="#9ccef1"/>
<rect x="1117.35" y="425.76" width="12.05" height="50.76" fill="#f6af86"/>
<rect x="1129.40" y="425.76" width="12.05" height="50.76" fill="#d55e00"/>
<rect x="1141.45" y="425.76" width="12.05" height="50.76" fill="#93caf0"/>
<rect x="1165.55" y="425.76" width="12.05" height="50.76" fill="#e47e3e"/>
<rect x="1189.65" y="425.76" width="12.05" height="50.76" fill="#ec8f57"/>
<rect x="1237.86" y="425.76" width="12.05" height="50.76" fill="#a0cff2"/>
<rect x="1249.91" y="425.76" width="12.05" height="50.76" fill="#9ccef1"/>
<rect x="1261.96" y="425.76" width="12.05" height="50.76" fill="#a5d2f2"/>
<rect x="1274.01" y="425.76" width="12.05" height="50.76" fill="#f2a070"/>
<rect x="1286.06" y="425.76" width="12.05" height="50.76" fill="#ec8f57"/>
<rect x="1310.16" y="425.76" width="12.05" height="50.76" fill="#a9d4f3"/>
<rect x="1322.21" y="425.76" width="12.05" height="50.76" fill="#e47c3b"/>
<rect x="1358.37" y="425.76" width="12.05" height="50.76" fill="#ee9662"/>
<rect x="1382.47" y="425.76" width="12.05" height="50.76" fill="#eb8d54"/>
<rect x="1394.52" y="425.76" width="12.05" height="50.76" fill="#9ccef1"/>
<rect x="1406.57" y="425.76" width="12.05" height="50.76" fill="#a5d2f2"/>
<rect x="1418.62" y="425.76" width="12.05" height="50.76" fill="#e68244"/>
<rect x="1430.67" y="425.76" width="12.05" height="50.76" fill="#ea8b51"/>
<rect x="1454.78" y="425.76" width="12.05" height="50.76" fill="#ee9662"/>
<rect x="1466.83" y="425.76" width="12.05" height="50.76" fill="#f2a070"/>
<rect x="1490.93" y="425.76" width="12.05" height="50.76" fill="#f4a578"/>
<rect x="1502.98" y="425.76" width="12.05" height="50.76" fill="#ee9662"/>
<rect x="1515.03" y="425.76" width="12.05" height="50.76" fill="#f09c6a"/>
<rect x="1527.08" y="425.76" width="12.05" height="50.76" fill="#93caf0"/>
<rect x="1551.18" y="425.76" width="12.05" height="50.76" fill="#a0cff2"/>
<rect x="1599.39" y="425.76" width="12.05" height="50.76" fill="#93caf0"/>
<rect x="1611.44" y="425.76" width="12.05" height="50.76" fill="#a0cff2"/>
<rect x="1623.49" y="425.76" width="12.05" height="50.76" fill="#e47e3e"/>
<rect x="1635.54" y="425.76" width="12.05" height="50.76" fill="#e27835"/>
<rect x="1647.59" y="425.76" width="12.05" height="50.76" fill="#b3d8f4"/>
<rect x="1659.64" y="425.76" width="12.05" height="50.76" fill="#e9874c"/>
<rect x="1671.69" y="425.76" width="12.05" height="50.76" fill="#e88549"/>
<rect x="1707.85" y="425.76" width="12.05" height="50.76" fill="#a0cff2"/>
<rect x="1719.90" y="425.76" width="12.05" height="50.76" fill="#e88549"/>
<rect x="1731.95" y="425.76" width="12.05" height="50.76" fill="#abd5f3"/>
<rect x="623.26" y="476.52" width="12.05" height="50.76" fill="#afd6f4"/>
<rect x="647.36" y="476.52" width="12.05" height="50.76" fill="#a0cff2"/>
<rect x="671.46" y="476.52" width="12.05" height="50.76" fill="#ee9662"/>
<rect x="731.71" y="476.52" width="12.05" height="50.76" fill="#96cbf0"/>
<rect x="767.87" y="476.52" width="12.05" height="50.76" fill="#abd5f3"/>
<rect x="816.07" y="476.52" width="12.05" height="50.76" fill="#ee9662"/>
<rect x="852.22" y="476.52" width="12.05" height="50.76" fill="#b8dbf5"/>
<rect x="864.28" y="476.52" width="12.05" height="50.76" fill="#ef9865"/>
<rect x="876.33" y="476.52" width="12.05" height="50.76" fill="#9ccef1"/>
<rect x="912.48" y="476.52" width="12.05" height="50.76" fill="#93caf0"/>
<rect x="924.53" y="476.52" width="12.05" height="50.76" fill="#f2a070"/>
<rect x="948.63" y="476.52" width="12.05" height="50.76" fill="#a5d2f2"/>
<rect x="972.73" y="476.52" width="12.05" height="50.76" fill="#f19e6d"/>
<rect x="1008.89" y="476.52" width="12.05" height="50.76" fill="#b8dbf5"/>
<rect x="1020.94" y="476.52" width="12.05" height="50.76" fill="#a9d4f3"/>
<rect x="1032.99" y="476.52" width="12.05" height="50.76" fill="#96cbf0"/>
<rect x="1057.09" y="476.52" width="12.05" height="50.76" fill="#a5d2f2"/>
<rect x="1069.14" y="476.52" width="12.05" height="50.76" fill="#abd5f3"/>
<rect x="1081.19" y="476.52" width="12.05" height="50.76" fill="#a5d2f2"/>
<rect x="1093.24" y="476.52" width="12.05" height="50.76" fill="#9ccef1"/>
<rect x="1141.45" y="476.52" width="12.05" height="50.76" fill="#93caf0"/>
<rect x="1165.55" y="476.52" width="12.05" height="50.76" fill="#e47e3e"/>
<rect x="1189.65" y="476.52" width="12.05" height="50.76" fill="#ec8f57"/>
<rect x="1310.16" y="476.52" width="12.05" height="50.76" fill="#a9d4f3"/>
<rect x="1322.21" y="476.52" width="12.05" height="50.76" fill="#e47c3b"/>
<rect x="1382.47" y="476.52" width="12.05" height="50.76" fill="#eb8d54"/>
<rect x="1394.52" y="476.52" width="12.05" height="50.76" fill="#9ccef1"/>
<rect x="1490.93" y="476.52" width="12.05" height="50.76" fill="#f4a578"/>
<rect x="1515.03" y="476.52" width="12.05" height="50.76" fill="#f09c6a"/>
<rect x="1527.08" y="476.52" width="12.05" height="50.76" fill="#93caf0"/>
<rect x="1575.29" y="476.52" width="12.05" height="50.76" fill="#91c9f0"/>
<rect x="1611.44" y="476.52" width="12.05" height="50.76" fill="#a0cff2"/>
<rect x="1635.54" y="476.52" width="12.05" height="50.76" fill="#e27835"/>
<rect x="1671.69" y="476.52" width="12.05" height="50.76" fill="#e88549"/>
<rect x="1707.85" y="476.52" width="12.05" height="50.76" fill="#a0cff2"/>
<rect x="1719.90" y="476.52" width="12.05" height="50.76" fill="#e88549"/>
<rect x="1731.95" y="476.52" width="12.05" height="50.76" fill="#abd5f3"/>
<rect x="623.26" y="527.28" width="12.05" height="50.76" fill="#afd6f4"/>
<rect x="647.36" y="527.28" width="12.05" height="50.76" fill="#a0cff2"/>
<rect x="671.46" y="527.28" width="12.05" height="50.76" fill="#ee9662"/>
<rect x="731.71" y="527.28" width="12.05" height="50.76" fill="#96cbf0"/>
<rect x="767.87" y="527.28" width="12.05" height="50.76" fill="#abd5f3"/>
<rect x="816.07" y="527.28" width="12.05" height="50.76" fill="#ee9662"/>
<rect x="852.22" y="527.28" width="12.05" height="50.76" fill="#b8dbf5"/>
<rect x="864.28" y="527.28" width="12.05" height="50.76" fill="#ef9865"/>
<rect x="876.33" y="527.28" width="12.05" height="50.76" fill="#9ccef1"/>
<rect x="912.48" y="527.28" width="12.05" height="50.76" fill="#93caf0"/>
<rect x="924.53" y="527.28" width="12.05" height="50.76" fill="#f2a070"/>
<rect x="948.63" y="527.28" width="12.05" height="50.76" fill="#a5d2f2"/>
<rect x="972.73" y="527.28" width="12.05" height="50.76" fill="#f19e6d"/>
<rect x="1008.89" y="527.28" width="12.05" height="50.76" fill="#b8dbf5"/>
<rect x="1020.94" y="527.28" width="12.05" height="50.76" fill="#a9d4f3"/>
<rect x="1032.99" y="527.28" width="12.05" height="50.76" fill="#96cbf0"/>
<rect x="1057.09" y="527.28" width="12.05" height="50.76" fill="#a5d2f2"/>
<rect x="1069.14" y="527.28" width="12.05" height="50.76" fill="#abd5f3"/>
<rect x="1081.19" y="527.28" width="12.05" height="50.76" fill="#a5d2f2"/>
<rect x="1093.24" y="527.28" width="12.05" height="50.76" fill="#9ccef1"/>
<rect x="1141.45" y="527.28" width="12.05" height="50.76" fill="#93caf0"/>
<rect x="1165.55" y="527.28" width="12.05" height="50.76" fill="#e47e3e"/>
<rect x="1189.65" y="527.28" width="12.05" height="50.76" fill="#ec8f57"/>
<rect x="1310.16" y="527.28" width="12.05" height="50.76" fill="#a9d4f3"/>
<rect x="1322.21" y="527.28" width="12.05" height="50.76" fill="#e47c3b"/>
<rect x="1382.47" y="527.28" width="12.05" height="50.76" fill="#eb8d54"/>
<rect x="1394.52" y="527.28" width="12.05" height="50.76" fill="#9ccef1"/>
<rect x="1490.93" y="527.28" width="12.05" height="50.76" fill="#f4a578"/>
<rect x="1515.03" y="527.28" width="12.05" height="50.76" fill="#f09c6a"/>
<rect x="1527.08" y="527.28" width="12.05" height="50.76" fill="#93caf0"/>
<rect x="1575.29" y="527.28" width="12.05" height="50.76" fill="#91c9f0"/>
<rect x="1611.44" y="527.28" width="12.05" height="50.76" fill="#a0cff2"/>
<rect x="1635.54" y="527.28" width="12.05" height="50.76" fill="#e27835"/>
<rect x="1671.69" y="527.28" width="12.05" height="50.76" fill="#e88549"/>
<rect x="1707.85" y="527.28" width="12.05" height="50.76" fill="#a0cff2"/>
<rect x="1719.90" y="527.28" width="12.05" height="50.76" fill="#e88549"/>
<rect x="1731.95" y="527.28" width="12.05" height="50.76" fill="#abd5f3"/>
<rect x="563.00" y="578.04" width="12.05" height="50.76" fill="#9ccef1"/>
<rect x="623.26" y="578.04" width="12.05" height="50.76" fill="#afd6f4"/>
<rect x="647.36" y="578.04" width="12.05" height="50.76" fill="#a0cff2"/>
<rect x="671.46" y="578.04" width="12.05" height="50.76" fill="#ee9662"/>
<rect x="731.71" y="578.04" width="12.05" height="50.76" fill="#96cbf0"/>
<rect x="767.87" y="578.04" width="12.05" height="50.76" fill="#abd5f3"/>
<rect x="816.07" y="578.04" width="12.05" height="50.76" fill="#ee9662"/>
<rect x="852.22" y="578.04" width="12.05" height="50.76" fill="#b8dbf5"/>
<rect x="864.28" y="578.04" width="12.05" height="50.76" fill="#ef9865"/>
<rect x="876.33" y="578.04" width="12.05" height="50.76" fill="#9ccef1"/>
<rect x="912.48" y="578.04" width="12.05" height="50.76" fill="#93caf0"/>
<rect x="924.53" y="578.04" width="12.05" height="50.76" fill="#f2a070"/>
<rect x="948.63" y="578.04" width="12.05" height="50.76" fill="#a5d2f2"/>
<rect x="972.73" y="578.04" width="12.05" height="50.76" fill="#f19e6d"/>
<rect x="1008.89" y="578.04" width="12.05" height="50.76" fill="#b8dbf5"/>
<rect x="1020.94" y="578.04" width="12.05" height="50.76" fill="#a9d4f3"/>
<rect x="1032.99" y="578.04" width="12.05" height="50.76" fill="#96cbf0"/>
<rect x="1057.09" y="578.04" width="12.05" height="50.76" fill="#a5d2f2"/>
<rect x="1069.14" y="578.04" width="12.05" height="50.76" fill="#abd5f3"/>
<rect x="1081.19" y="578.04" width="12.05" height="50.76" fill="#a5d2f2"/>
<rect x="1093.24" y="578.04" width="12.05" height="50.76" fill="#9ccef1"/>
<rect x="1129.40" y="578.04" width="12.05" height="50.76" fill="#d55e00"/>
<rect x="1141.45" y="578.04" width="12.05" height="50.76" fill="#93caf0"/>
<rect x="1165.55" y="578.04" width="12.05" height="50.76" fill="#e47e3e"/>
<rect x="1189.65" y="578.04" width="12.05" height="50.76" fill="#ec8f57"/>
<rect x="1249.91" y="578.04" width="12.05" height="50.76" fill="#9ccef1"/>
<rect x="1310.16" y="578.04" width="12.05" height="50.76" fill="#a9d4f3"/>
<rect x="1322.21" y="578.04" width="12.05" height="50.76" fill="#e47c3b"/>
<rect x="1382.47" y="578.04" width="12.05" height="50.76" fill="#eb8d54"/>
<rect x="1394.52" y="578.04" width="12.05" height="50.76" fill="#9ccef1"/>
<rect x="1418.62" y="578.04" width="12.05" height="50.76" fill="#e68244"/>
<rect x="1490.93" y="578.04" width="12.05" height="50.76" fill="#f4a578"/>
<rect x="1515.03" y="578.04" width="12.05" height="50.76" fill="#f09c6a"/>
<rect x="1527.08" y="578.04" width="12.05" height="50.76" fill="#93caf0"/>
<rect x="1575.29" y="578.04" width="12.05" height="50.76" fill="#91c9f0"/>
<rect x="1611.44" y="578.04" width="12.05" height="50.76" fill="#a0cff2"/>
<rect x="1635.54" y="578.04" width="12.05" height="50.76" fill="#e27835"/>
<rect x="1671.69" y="578.04" width="12.05" height="50.76" fill="#e88549"/>
<rect x="1707.85" y="578.04" width="12.05" height="50.76" fill="#a0cff2"/>
<rect x="1719.90" y="578.04" width="12.05" height="50.76" fill="#e88549"/>
<rect x="1731.95" y="578.04" width="12.05" height="50.76" fill="#abd5f3"/>
<rect x="563.00" y="628.79" width="12.05" height="50.76" fill="#9ccef1"/>
<rect x="599.15" y="628.79" width="12.05" height="50.76" fill="#96cbf0"/>
<rect x="623.26" y="628.79" width="12.05" height="50.76" fill="#afd6f4"/>
<rect x="635.31" y="628.79" width="12.05" height="50.76" fill="#f4a77b"/>
<rect x="647.36" y="628.79" width="12.05" height="50.76" fill="#a0cff2"/>
<rect x="659.41" y="628.79" width="12.05" height="50.76" fill="#96cbf0"/>
<rect x="671.46" y="628.79" width="12.05" height="50.76" fill="#ee9662"/>
<rect x="695.56" y="628.79" width="12.05" height="50.76" fill="#e9894f"/>
<rect x="707.61" y="628.79" width="12.05" height="50.76" fill="#ea8b51"/>
<rect x="719.66" y="628.79" width="12.05" height="50.76" fill="#a0cff2"/>
<rect x="731.71" y="628.79" width="12.05" height="50.76" fill="#96cbf0"/>
<rect x="755.82" y="628.79" width="12.05" height="50.76" fill="#ee9662"/>
<rect x="767.87" y="628.79" width="12.05" height="50.76" fill="#abd5f3"/>
<rect x="779.92" y="628.79" width="12.05" height="50.76" fill="#e37a38"/>
<rect x="816.07" y="628.79" width="12.05" height="50.76" fill="#ee9662"/>
<rect x="828.12" y="628.79" width="12.05" height="50.76" fill="#9ecff1"/>
<rect x="852.22" y="628.79" width="12.05" height="50.76" fill="#b8dbf5"/>
<rect x="864.28" y="628.79" width="12.05" height="50.76" fill="#ef9865"/>
<rect x="876.33" y="628.79" width="12.05" height="50.76" fill="#9ccef1"/>
<rect x="912.48" y="628.79" width="12.05" height="50.76" fill="#93caf0"/>
<rect x="924.53" y="628.79" width="12.05" height="50.76" fill="#f2a070"/>
<rect x="948.63" y="628.79" width="12.05" height="50.76" fill="#a5d2f2"/>
<rect x="960.68" y="628.79" width="12.05" height="50.76" fill="#f09c6a"/>
<rect x="972.73" y="628.79" width="12.05" height="50.76" fill="#f19e6d"/>
<rect x="1008.89" y="628.79" width="12.05" height="50.76" fill="#b8dbf5"/>
<rect x="1020.94" y="628.79" width="12.05" height="50.76" fill="#a9d4f3"/>
<rect x="1032.99" y="628.79" width="12.05" height="50.76" fill="#96cbf0"/>
<rect x="1057.09" y="628.79" width="12.05" height="50.76" fill="#a5d2f2"/>
<rect x="1069.14" y="628.79" width="12.05" height="50.76" fill="#abd5f3"/>
<rect x="1081.19" y="628.79" width="12.05" height="50.76" fill="#a5d2f2"/>
<rect x="1093.24" y="628.79" width="12.05" height="50.76" fill="#9ccef1"/>
<rect x="1117.35" y="628.79" width="12.05" height="50.76" fill="#f6af86"/>
<rect x="1129.40" y="628.79" width="12.05" height="50.76" fill="#d55e00"/>
<rect x="1165.55" y="628.79" width="12.05" height="50.76" fill="#e47e3e"/>
<rect x="1189.65" y="628.79" width="12.05" height="50.76" fill="#ec8f57"/>
<rect x="1237.86" y="628.79" width="12.05" height="50.76" fill="#a0cff2"/>
<rect x="1249.91" y="628.79" width="12.05" height="50.76" fill="#9ccef1"/>
<rect x="1274.01" y="628.79" width="12.05" height="50.76" fill="#f2a070"/>
<rect x="1286.06" y="628.79" width="12.05" height="50.76" fill="#ec8f57"/>
<rect x="1310.16" y="628.79" width="12.05" height="50.76" fill="#a9d4f3"/>
<rect x="1322.21" y="628.79" width="12.05" height="50.76" fill="#e47c3b"/>
<rect x="1358.37" y="628.79" width="12.05" height="50.76" fill="#ee9662"/>
<rect x="1382.47" y="628.79" width="12.05" height="50.76" fill="#eb8d54"/>
<rect x="1394.52" y="628.79" width="12.05" height="50.76" fill="#9ccef1"/>
<rect x="1406.57" y="628.79" width="12.05" height="50.76" fill="#a5d2f2"/>
<rect x="1418.62" y="628.79" width="12.05" height="50.76" fill="#e68244"/>
<rect x="1430.67" y="628.79" width="12.05" height="50.76" fill="#ea8b51"/>
<rect x="1454.78" y="628.79" width="12.05" height="50.76" fill="#ee9662"/>
<rect x="1466.83" y="628.79" width="12.05" height="50.76" fill="#f2a070"/>
<rect x="1490.93" y="628.79" width="12.05" height="50.76" fill="#f4a578"/>
<rect x="1502.98" y="628.79" width="12.05" height="50.76" fill="#ee9662"/>
<rect x="1515.03" y="628.79" width="12.05" height="50.76" fill="#f09c6a"/>
<rect x="1527.08" y="628.79" width="12.05" height="50.76" fill="#93caf0"/>
<rect x="1551.18" y="628.79" width="12.05" height="50.76" fill="#a0cff2"/>
<rect x="1599.39" y="628.79" width="12.05" height="50.76" fill="#93caf0"/>
<rect x="1611.44" y="628.79" width="12.05" height="50.76" fill="#a0cff2"/>
<rect x="1623.49" y="628.79" width="12.05" height="50.76" fill="#e47e3e"/>
<rect x="1635.54" y="628.79" width="12.05" height="50.76" fill="#e27835"/>
<rect x="1647.59" y="628.79" width="12.05" height="50.76" fill="#b3d8f4"/>
<rect x="1659.64" y="628.79" width="12.05" height="50.76" fill="#e9874c"/>
<rect x="1671.69" y="628.79" width="12.05" height="50.76" fill="#e88549"/>
<rect x="1707.85" y="628.79" width="12.05" height="50.76" fill="#a0cff2"/>
<rect x="1719.90" y="628.79" width="12.05" height="50.76" fill="#e88549"/>
<rect x="1731.95" y="628.79" width="12.05" height="50.76" fill="#abd5f3"/>
<rect x="623.26" y="679.55" width="12.05" height="50.76" fill="#afd6f4"/>
<rect x="647.36" y="679.55" width="12.05" height="50.76" fill="#a0cff2"/>
<rect x="671.46" y="679.55" width="12.05" height="50.76" fill="#ee9662"/>
<rect x="731.71" y="679.55" width="12.05" height="50.76" fill="#96cbf0"/>
<rect x="767.87" y="679.55" width="12.05" height="50.76" fill="#abd5f3"/>
<rect x="816.07" y="679.55" width="12.05" height="50.76" fill="#ee9662"/>
<rect x="852.22" y="679.55" width="12.05" height="50.76" fill="#b8dbf5"/>
<rect x="864.28" y="679.55" width="12.05" height="50.76" fill="#ef9865"/>
<rect x="876.33" y="679.55" width="12.05" height="50.76" fill="#9ccef1"/>
<rect x="912.48" y="679.55" width="12.05" height="50.76" fill="#93caf0"/>
<rect x="924.53" y="679.55" width="12.05" height="50.76" fill="#f2a070"/>
<rect x="948.63" y="679.55" width="12.05" height="50.76" fill="#a5d2f2"/>
<rect x="1008.89" y="679.55" width="12.05" height="50.76" fill="#b8dbf5"/>
<rect x="1020.94" y="679.55" width="12.05" height="50.76" fill="#a9d4f3"/>
<rect x="1032.99" y="679.55" width="12.05" height="50.76" fill="#96cbf0"/>
<rect x="1057.09" y="679.55" width="12.05" height="50.76" fill="#a5d2f2"/>
<rect x="1069.14" y="679.55" width="12.05" height="50.76" fill="#abd5f3"/>
<rect x="1081.19" y="679.55" width="12.05" height="50.76" fill="#a5d2f2"/>
<rect x="1093.24" y="679.55" width="12.05" height="50.76" fill="#9ccef1"/>
<rect x="1141.45" y="679.55" width="12.05" height="50.76" fill="#93caf0"/>
<rect x="1165.55" y="679.55" width="12.05" height="50.76" fill="#e47e3e"/>
<rect x="1189.65" y="679.55" width="12.05" height="50.76" fill="#ec8f57"/>
<rect x="1310.16" y="679.55" width="12.05" height="50.76" fill="#a9d4f3"/>
<rect x="1322.21" y="679.55" width="12.05" height="50.76" fill="#e47c3b"/>
<rect x="1382.47" y="679.55" width="12.05" height="50.76" fill="#eb8d54"/>
<rect x="1394.52" y="679.55" width="12.05" height="50.76" fill="#9ccef1"/>
<rect x="1490.93" y="679.55" width="12.05" height="50.76" fill="#f4a578"/>
<rect x="1515.03" y="679.55" width="12.05" height="50.76" fill="#f09c6a"/>
<rect x="1527.08" y="679.55" width="12.05" height="50.76" fill="#93caf0"/>
<rect x="1575.29" y="679.55" width="12.05" height="50.76" fill="#91c9f0"/>
<rect x="1611.44" y="679.55" width="12.05" height="50.76" fill="#a0cff2"/>
<rect x="1635.54" y="679.55" width="12.05" height="50.76" fill="#e27835"/>
<rect x="1671.69" y="679.55" width="12.05" height="50.76" fill="#e88549"/>
<rect x="1707.85" y="679.55" width="12.05" height="50.76" fill="#a0cff2"/>
<rect x="1719.90" y="679.55" width="12.05" height="50.76" fill="#e88549"/>
<rect x="1731.95" y="679.55" width="12.05" height="50.76" fill="#abd5f3"/>
<rect x="623.26" y="730.31" width="12.05" height="50.76" fill="#afd6f4"/>
<rect x="647.36" y="730.31" width="12.05" height="50.76" fill="#a0cff2"/>
<rect x="671.46" y="730.31" width="12.05" height="50.76" fill="#ee9662"/>
<rect x="731.71" y="730.31" width="12.05" height="50.76" fill="#96cbf0"/>
<rect x="767.87" y="730.31" width="12.05" height="50.76" fill="#abd5f3"/>
<rect x="816.07" y="730.31" width="12.05" height="50.76" fill="#ee9662"/>
<rect x="852.22" y="730.31" width="12.05" height="50.76" fill="#b8dbf5"/>
<rect x="864.28" y="730.31" width="12.05" height="50.76" fill="#ef9865"/>
<rect x="876.33" y="730.31" width="12.05" height="50.76" fill="#9ccef1"/>
<rect x="912.48" y="730.31" width="12.05" height="50.76" fill="#93caf0"/>
<rect x="924.53" y="730.31" width="12.05" height="50.76" fill="#f2a070"/>
<rect x="948.63" y="730.31" width="12.05" height="50.76" fill="#a5d2f2"/>
<rect x="1008.89" y="730.31" width="12.05" height="50.76" fill="#b8dbf5"/>
<rect x="1020.94" y="730.31" width="12.05" height="50.76" fill="#a9d4f3"/>
<rect x="1032.99" y="730.31" width="12.05" height="50.76" fill="#96cbf0"/>
<rect x="1057.09" y="730.31" width="12.05" height="50.76" fill="#a5d2f2"/>
<rect x="1069.14" y="730.31" width="12.05" height="50.76" fill="#abd5f3"/>
<rect x="1081.19" y="730.31" width="12.05" height="50.76" fill="#a5d2f2"/>
<rect x="1093.24" y="730.31" width="12.05" height="50.76" fill="#9ccef1"/>
<rect x="1141.45" y="730.31" width="12.05" height="50.76" fill="#93caf0"/>
<rect x="1165.55" y="730.31" width="12.05" height="50.76" fill="#e47e3e"/>
<rect x="1189.65" y="730.31" width="12.05" height="50.76" fill="#ec8f57"/>
<rect x="1310.16" y="730.31" width="12.05" height="50.76" fill="#a9d4f3"/>
<rect x="1322.21" y="730.31" width="12.05" height="50.76" fill="#e47c3b"/>
<rect x="1382.47" y="730.31" width="12.05" height="50.76" fill="#eb8d54"/>
<rect x="1394.52" y="730.31" width="12.05" height="50.76" fill="#9ccef1"/>
<rect x="1490.93" y="730.31" width="12.05" height="50.76" fill="#f4a578"/>
<rect x="1515.03" y="730.31" width="12.05" height="50.76" fill="#f09c6a"/>
<rect x="1527.08" y="730.31" width="12.05" height="50.76" fill="#93caf0"/>
<rect x="1575.29" y="730.31" width="12.05" height="50.76" fill="#91c9f0"/>
<rect x="1611.44" y="730.31" width="12.05" height="50.76" fill="#a0cff2"/>
<rect x="1635.54" y="730.31" width="12.05" height="50.76" fill="#e27835"/>
<rect x="1671.69" y="730.31" width="12.05" height="50.76" fill="#e88549"/>
<rect x="1707.85" y="730.31" width="12.05" height="50.76" fill="#a0cff2"/>
<rect x="1719.90" y="730.31" width="12.05" height="50.76" fill="#e88549"/>
<rect x="1731.95" y="730.31" width="12.05" height="50.76" fill="#abd5f3"/>
<rect x="587.10" y="781.07" width="12.05" height="50.76" fill="#87c5ee"/>
<rect x="623.26" y="781.07" width="12.05" height="50.76" fill="#afd6f4"/>
<rect x="647.36" y="781.07" width="12.05" height="50.76" fill="#a0cff2"/>
<rect x="671.46" y="781.07" width="12.05" height="50.76" fill="#ee9662"/>
<rect x="731.71" y="781.07" width="12.05" height="50.76" fill="#96cbf0"/>
<rect x="767.87" y="781.07" width="12.05" height="50.76" fill="#abd5f3"/>
<rect x="816.07" y="781.07" width="12.05" height="50.76" fill="#ee9662"/>
<rect x="852.22" y="781.07" width="12.05" height="50.76" fill="#b8dbf5"/>
<rect x="864.28" y="781.07" width="12.05" height="50.76" fill="#ef9865"/>
<rect x="876.33" y="781.07" width="12.05" height="50.76" fill="#9ccef1"/>
<rect x="912.48" y="781.07" width="12.05" height="50.76" fill="#93caf0"/>
<rect x="924.53" y="781.07" width="12.05" height="50.76" fill="#f2a070"/>
<rect x="948.63" y="781.07" width="12.05" height="50.76" fill="#a5d2f2"/>
<rect x="1008.89" y="781.07" width="12.05" height="50.76" fill="#b8dbf5"/>
<rect x="1020.94" y="781.07" width="12.05" height="50.76" fill="#a9d4f3"/>
<rect x="1032.99" y="781.07" width="12.05" height="50.76" fill="#96cbf0"/>
<rect x="1045.04" y="781.07" width="12.05" height="50.76" fill="#87c5ee"/>
<rect x="1057.09" y="781.07" width="12.05" height="50.76" fill="#a5d2f2"/>
<rect x="1069.14" y="781.07" width="12.05" height="50.76" fill="#abd5f3"/>
<rect x="1081.19" y="781.07" width="12.05" height="50.76" fill="#a5d2f2"/>
<rect x="1093.24" y="781.07" width="12.05" height="50.76" fill="#9ccef1"/>
<rect x="1129.40" y="781.07" width="12.05" height="50.76" fill="#d55e00"/>
<rect x="1141.45" y="781.07" width="12.05" height="50.76" fill="#93caf0"/>
<rect x="1165.55" y="781.07" width="12.05" height="50.76" fill="#e47e3e"/>
<rect x="1189.65" y="781.07" width="12.05" height="50.76" fill="#ec8f57"/>
<rect x="1249.91" y="781.07" width="12.05" height="50.76" fill="#9ccef1"/>
<rect x="1310.16" y="781.07" width="12.05" height="50.76" fill="#a9d4f3"/>
<rect x="1322.21" y="781.07" width="12.05" height="50.76" fill="#e47c3b"/>
<rect x="1334.27" y="781.07" width="12.05" height="50.76" fill="#8dc8ef"/>
<rect x="1346.32" y="781.07" width="12.05" height="50.76" fill="#87c5ee"/>
<rect x="1382.47" y="781.07" width="12.05" height="50.76" fill="#eb8d54"/>
<rect x="1394.52" y="781.07" width="12.05" height="50.76" fill="#9ccef1"/>
<rect x="1418.62" y="781.07" width="12.05" height="50.76" fill="#e68244"/>
<rect x="1478.88" y="781.07" width="12.05" height="50.76" fill="#87c5ee"/>
<rect x="1490.93" y="781.07" width="12.05" height="50.76" fill="#f4a578"/>
<rect x="1515.03" y="781.07" width="12.05" height="50.76" fill="#f09c6a"/>
<rect x="1527.08" y="781.07" width="12.05" height="50.76" fill="#93caf0"/>
<rect x="1563.23" y="781.07" width="12.05" height="50.76" fill="#8dc8ef"/>
<rect x="1575.29" y="781.07" width="12.05" height="50.76" fill="#91c9f0"/>
<rect x="1611.44" y="781.07" width="12.05" height="50.76" fill="#a0cff2"/>
<rect x="1635.54" y="781.07" width="12.05" height="50.76" fill="#e27835"/>
<rect x="1671.69" y="781.07" width="12.05" height="50.76" fill="#e88549"/>
<rect x="1695.80" y="781.07" width="12.05" height="50.76" fill="#8fc8ef"/>
<rect x="1707.85" y="781.07" width="12.05" height="50.76" fill="#a0cff2"/>
<rect x="1719.90" y="781.07" width="12.05" height="50.76" fill="#e88549"/>
<rect x="1731.95" y="781.07" width="12.05" height="50.76" fill="#abd5f3"/>
<rect x="563.00" y="831.83" width="12.05" height="50.76" fill="#9ccef1"/>
<rect x="587.10" y="831.83" width="12.05" height="50.76" fill="#87c5ee"/>
<rect x="647.36" y="831.83" width="12.05" height="50.76" fill="#a0cff2"/>
<rect x="671.46" y="831.83" width="12.05" height="50.76" fill="#ee9662"/>
<rect x="731.71" y="831.83" width="12.05" height="50.76" fill="#96cbf0"/>
<rect x="767.87" y="831.83" width="12.05" height="50.76" fill="#abd5f3"/>
<rect x="816.07" y="831.83" width="12.05" height="50.76" fill="#ee9662"/>
<rect x="852.22" y="831.83" width="12.05" height="50.76" fill="#b8dbf5"/>
<rect x="864.28" y="831.83" width="12.05" height="50.76" fill="#ef9865"/>
<rect x="876.33" y="831.83" width="12.05" height="50.76" fill="#9ccef1"/>
<rect x="912.48" y="831.83" width="12.05" height="50.76" fill="#93caf0"/>
<rect x="924.53" y="831.83" width="12.05" height="50.76" fill="#f2a070"/>
<rect x="948.63" y="831.83" width="12.05" height="50.76" fill="#a5d2f2"/>
<rect x="1008.89" y="831.83" width="12.05" height="50.76" fill="#b8dbf5"/>
<rect x="1020.94" y="831.83" width="12.05" height="50.76" fill="#a9d4f3"/>
<rect x="1032.99" y="831.83" width="12.05" height="50.76" fill="#96cbf0"/>
<rect x="1045.04" y="831.83" width="12.05" height="50.76" fill="#87c5ee"/>
<rect x="1057.09" y="831.83" width="12.05" height="50.76" fill="#a5d2f2"/>
<rect x="1069.14" y="831.83" width="12.05" height="50.76" fill="#abd5f3"/>
<rect x="1081.19" y="831.83" width="12.05" height="50.76" fill="#a5d2f2"/>
<rect x="1093.24" y="831.83" width="12.05" height="50.76" fill="#9ccef1"/>
<rect x="1129.40" y="831.83" width="12.05" height="50.76" fill="#d55e00"/>
<rect x="1141.45" y="831.83" width="12.05" height="50.76" fill="#93caf0"/>
<rect x="1165.55" y="831.83" width="12.05" height="50.76" fill="#e47e3e"/>
<rect x="1189.65" y="831.83" width="12.05" height="50.76" fill="#ec8f57"/>
<rect x="1225.81" y="831.83" width="12.05" height="50.76" fill="#87c5ee"/>
<rect x="1249.91" y="831.83" width="12.05" height="50.76" fill="#9ccef1"/>
<rect x="1310.16" y="831.83" width="12.05" height="50.76" fill="#a9d4f3"/>
<rect x="1322.21" y="831.83" width="12.05" height="50.76" fill="#e47c3b"/>
<rect x="1334.27" y="831.83" width="12.05" height="50.76" fill="#8dc8ef"/>
<rect x="1346.32" y="831.83" width="12.05" height="50.76" fill="#87c5ee"/>
<rect x="1382.47" y="831.83" width="12.05" height="50.76" fill="#eb8d54"/>
<rect x="1418.62" y="831.83" width="12.05" height="50.76" fill="#e68244"/>
<rect x="1490.93" y="831.83" width="12.05" height="50.76" fill="#f4a578"/>
<rect x="1515.03" y="831.83" width="12.05" height="50.76" fill="#f09c6a"/>
<rect x="1527.08" y="831.83" width="12.05" height="50.76" fill="#93caf0"/>
<rect x="1563.23" y="831.83" width="12.05" height="50.76" fill="#8dc8ef"/>
<rect x="1575.29" y="831.83" width="12.05" height="50.76" fill="#91c9f0"/>
<rect x="1611.44" y="831.83" width="12.05" height="50.76" fill="#a0cff2"/>
<rect x="1635.54" y="831.83" width="12.05" height="50.76" fill="#e27835"/>
<rect x="1671.69" y="831.83" width="12.05" height="50.76" fill="#e88549"/>
<rect x="1695.80" y="831.83" width="12.05" height="50.76" fill="#8fc8ef"/>
<rect x="1707.85" y="831.83" width="12.05" height="50.76" fill="#a0cff2"/>
<rect x="1719.90" y="831.83" width="12.05" height="50.76" fill="#e88549"/>
<rect x="1731.95" y="831.83" width="12.05" height="50.76" fill="#abd5f3"/>
<rect x="563.00" y="882.58" width="12.05" height="50.76" fill="#9ccef1"/>
<rect x="587.10" y="882.58" width="12.05" height="50.76" fill="#87c5ee"/>
<rect x="623.26" y="882.58" width="12.05" height="50.76" fill="#afd6f4"/>
<rect x="647.36" y="882.58" width="12.05" height="50.76" fill="#a0cff2"/>
<rect x="671.46" y="882.58" width="12.05" height="50.76" fill="#ee9662"/>
<rect x="731.71" y="882.58" width="12.05" height="50.76" fill="#96cbf0"/>
<rect x="767.87" y="882.58" width="12.05" height="50.76" fill="#abd5f3"/>
<rect x="816.07" y="882.58" width="12.05" height="50.76" fill="#ee9662"/>
<rect x="852.22" y="882.58" width="12.05" height="50.76" fill="#b8dbf5"/>
<rect x="864.28" y="882.58" width="12.05" height="50.76" fill="#ef9865"/>
<rect x="876.33" y="882.58" width="12.05" height="50.76" fill="#9ccef1"/>
<rect x="912.48" y="882.58" width="12.05" height="50.76" fill="#93caf0"/>
<rect x="924.53" y="882.58" width="12.05" height="50.76" fill="#f2a070"/>
<rect x="948.63" y="882.58" width="12.05" height="50.76" fill="#a5d2f2"/>
<rect x="972.73" y="882.58" width="12.05" height="50.76" fill="#f19e6d"/>
<rect x="1008.89" y="882.58" width="12.05" height="50.76" fill="#b8dbf5"/>
<rect x="1020.94" y="882.58" width="12.05" height="50.76" fill="#a9d4f3"/>
<rect x="1032.99" y="882.58" width="12.05" height="50.76" fill="#96cbf0"/>
<rect x="1045.04" y="882.58" width="12.05" height="50.76" fill="#87c5ee"/>
<rect x="1057.09" y="882.58" width="12.05" height="50.76" fill="#a5d2f2"/>
<rect x="1069.14" y="882.58" width="12.05" height="50.76" fill="#abd5f3"/>
<rect x="1081.19" y="882.58" width="12.05" height="50.76" fill="#a5d2f2"/>
<rect x="1093.24" y="882.58" width="12.05" height="50.76" fill="#9ccef1"/>
<rect x="1129.40" y="882.58" width="12.05" height="50.76" fill="#d55e00"/>
<rect x="1141.45" y="882.58" width="12.05" height="50.76" fill="#93caf0"/>
<rect x="1165.55" y="882.58" width="12.05" height="50.76" fill="#e47e3e"/>
<rect x="1189.65" y="882.58" width="12.05" height="50.76" fill="#ec8f57"/>
<rect x="1225.81" y="882.58" width="12.05" height="50.76" fill="#87c5ee"/>
<rect x="1249.91" y="882.58" width="12.05" height="50.76" fill="#9ccef1"/>
<rect x="1310.16" y="882.58" width="12.05" height="50.76" fill="#a9d4f3"/>
<rect x="1322.21" y="882.58" width="12.05" height="50.76" fill="#e47c3b"/>
<rect x="1334.27" y="882.58" width="12.05" height="50.76" fill="#8dc8ef"/>
<rect x="1346.32" y="882.58" width="12.05" height="50.76" fill="#87c5ee"/>
<rect x="1382.47" y="882.58" width="12.05" height="50.76" fill="#eb8d54"/>
<rect x="1418.62" y="882.58" width="12.05" height="50.76" fill="#e68244"/>
<rect x="1490.93" y="882.58" width="12.05" height="50.76" fill="#f4a578"/>
<rect x="1515.03" y="882.58" width="12.05" height="50.76" fill="#f09c6a"/>
<rect x="1527.08" y="882.58" width="12.05" height="50.76" fill="#93caf0"/>
<rect x="1563.23" y="882.58" width="12.05" height="50.76" fill="#8dc8ef"/>
<rect x="1575.29" y="882.58" width="12.05" height="50.76" fill="#91c9f0"/>
<rect x="1611.44" y="882.58" width="12.05" height="50.76" fill="#a0cff2"/>
<rect x="1635.54" y="882.58" width="12.05" height="50.76" fill="#e27835"/>
<rect x="1671.69" y="882.58" width="12.05" height="50.76" fill="#e88549"/>
<rect x="1695.80" y="882.58" width="12.05" height="50.76" fill="#8fc8ef"/>
<rect x="1707.85" y="882.58" width="12.05" height="50.76" fill="#a0cff2"/>
<rect x="1719.90" y="882.58" width="12.05" height="50.76" fill="#e88549"/>
<rect x="1731.95" y="882.58" width="12.05" height="50.76" fill="#abd5f3"/>
<rect x="563.00" y="933.34" width="12.05" height="50.76" fill="#9ccef1"/>
<rect x="587.10" y="933.34" width="12.05" height="50.76" fill="#87c5ee"/>
<rect x="623.26" y="933.34" width="12.05" height="50.76" fill="#afd6f4"/>
<rect x="647.36" y="933.34" width="12.05" height="50.76" fill="#a0cff2"/>
<rect x="659.41" y="933.34" width="12.05" height="50.76" fill="#96cbf0"/>
<rect x="671.46" y="933.34" width="12.05" height="50.76" fill="#ee9662"/>
<rect x="695.56" y="933.34" width="12.05" height="50.76" fill="#e9894f"/>
<rect x="719.66" y="933.34" width="12.05" height="50.76" fill="#a0cff2"/>
<rect x="816.07" y="933.34" width="12.05" height="50.76" fill="#ee9662"/>
<rect x="852.22" y="933.34" width="12.05" height="50.76" fill="#b8dbf5"/>
<rect x="876.33" y="933.34" width="12.05" height="50.76" fill="#9ccef1"/>
<rect x="888.38" y="933.34" width="12.05" height="50.76" fill="#8dc8ef"/>
<rect x="924.53" y="933.34" width="12.05" height="50.76" fill="#f2a070"/>
<rect x="1008.89" y="933.34" width="12.05" height="50.76" fill="#b8dbf5"/>
<rect x="1020.94" y="933.34" width="12.05" height="50.76" fill="#a9d4f3"/>
<rect x="1032.99" y="933.34" width="12.05" height="50.76" fill="#96cbf0"/>
<rect x="1045.04" y="933.34" width="12.05" height="50.76" fill="#87c5ee"/>
<rect x="1057.09" y="933.34" width="12.05" height="50.76" fill="#a5d2f2"/>
<rect x="1069.14" y="933.34" width="12.05" height="50.76" fill="#abd5f3"/>
<rect x="1081.19" y="933.34" width="12.05" height="50.76" fill="#a5d2f2"/>
<rect x="1093.24" y="933.34" width="12.05" height="50.76" fill="#9ccef1"/>
<rect x="1129.40" y="933.34" width="12.05" height="50.76" fill="#d55e00"/>
<rect x="1141.45" y="933.34" width="12.05" height="50.76" fill="#93caf0"/>
<rect x="1165.55" y="933.34" width="12.05" height="50.76" fill="#e47e3e"/>
<rect x="1225.81" y="933.34" width="12.05" height="50.76" fill="#87c5ee"/>
<rect x="1261.96" y="933.34" width="12.05" height="50.76" fill="#a5d2f2"/>
<rect x="1298.11" y="933.34" width="12.05" height="50.76" fill="#f5ab80"/>
<rect x="1322.21" y="933.34" width="12.05" height="50.76" fill="#e47c3b"/>
<rect x="1334.27" y="933.34" width="12.05" height="50.76" fill="#8dc8ef"/>
<rect x="1370.42" y="933.34" width="12.05" height="50.76" fill="#8fc8ef"/>
<rect x="1478.88" y="933.34" width="12.05" height="50.76" fill="#87c5ee"/>
<rect x="1515.03" y="933.34" width="12.05" height="50.76" fill="#f09c6a"/>
<rect x="1551.18" y="933.34" width="12.05" height="50.76" fill="#a0cff2"/>
<rect x="1575.29" y="933.34" width="12.05" height="50.76" fill="#91c9f0"/>
<rect x="1587.34" y="933.34" width="12.05" height="50.76" fill="#87c5ee"/>
<rect x="1611.44" y="933.34" width="12.05" height="50.76" fill="#a0cff2"/>
<rect x="1623.49" y="933.34" width="12.05" height="50.76" fill="#e47e3e"/>
<rect x="1635.54" y="933.34" width="12.05" height="50.76" fill="#e27835"/>
<rect x="1647.59" y="933.34" width="12.05" height="50.76" fill="#b3d8f4"/>
<rect x="1683.74" y="933.34" width="12.05" height="50.76" fill="#91c9f0"/>
<rect x="1707.85" y="933.34" width="12.05" height="50.76" fill="#a0cff2"/>
<rect x="1719.90" y="933.34" width="12.05" height="50.76" fill="#e88549"/>
<rect x="1731.95" y="933.34" width="12.05" height="50.76" fill="#abd5f3"/>
</g>
<g font-size="23.47" fill="#4d4d4d" text-anchor="end" letter-spacing="-0.14" word-spacing="1.75">
<text x="547.6" y="53.5">anatomical structure development</text>
<text x="547.6" y="104.2">biological regulation</text>
<text x="547.6" y="155.0">gene expression</text>
<text x="547.6" y="205.8">macromolecule biosynthetic process</text>
<text x="547.6" y="256.5">macromolecule metabolic process</text>
<text x="547.6" y="307.3">negative regulation of biological process</text>
<text x="547.6" y="358.0">negative regulation of cellular process</text>
<text x="547.6" y="408.8">primary metabolic process</text>
<text x="547.6" y="459.5">regulation of biological process</text>
<text x="547.6" y="510.3">regulation of biosynthetic process</text>
<text x="547.6" y="561.1">regulation of cellular biosynthetic process</text>
<text x="547.6" y="611.8">regulation of cellular metabolic process</text>
<text x="547.6" y="662.6">regulation of cellular process</text>
<text x="547.6" y="713.3">regulation of gene expression</text>
<text x="547.6" y="764.1">regulation of macromolecule biosynthetic process</text>
<text x="547.6" y="814.8">regulation of macromolecule metabolic process</text>
<text x="547.6" y="865.6">regulation of nitrogen compound metabolic process</text>
<text x="547.6" y="916.4">regulation of primary metabolic process</text>
<text x="547.6" y="967.1">system development</text>
</g>
<g font-size="26.80" fill="#4d4d4d" text-anchor="end">
<text transform="translate(569.03,1001.9) rotate(-60)" dy="19.19">ABAT</text>
<text transform="translate(581.08,1001.9) rotate(-60)" dy="19.19">ACOT7</text>
<text transform="translate(593.13,1001.9) rotate(-60)" dy="19.19">AGT</text>
<text transform="translate(605.18,1001.9) rotate(-60)" dy="19.19">AKAP1</text>
<text transform="translate(617.23,1001.9) rotate(-60)" dy="19.19">ALDH1A1</text>
<text transform="translate(629.28,1001.9) rotate(-60)" dy="19.19">ANXA1</text>
<text transform="translate(641.33,1001.9) rotate(-60)" dy="19.19">ASNS</text>
<text transform="translate(653.38,1001.9) rotate(-60)" dy="19.19">ATM</text>
<text transform="translate(665.43,1001.9) rotate(-60)" dy="19.19">ATXN1</text>
<text transform="translate(677.48,1001.9) rotate(-60)" dy="19.19">BCL6</text>
<text transform="translate(689.54,1001.9) rotate(-60)" dy="19.19">BMP4</text>
<text transform="translate(701.59,1001.9) rotate(-60)" dy="19.19">CAMK1D</text>
<text transform="translate(713.64,1001.9) rotate(-60)" dy="19.19">CAMK2N1</text>
<text transform="translate(725.69,1001.9) rotate(-60)" dy="19.19">CD9</text>
<text transform="translate(737.74,1001.9) rotate(-60)" dy="19.19">CDK2AP1</text>
<text transform="translate(749.79,1001.9) rotate(-60)" dy="19.19">CDKN2B</text>
<text transform="translate(761.84,1001.9) rotate(-60)" dy="19.19">CHST11</text>
<text transform="translate(773.89,1001.9) rotate(-60)" dy="19.19">CLMP</text>
<text transform="translate(785.94,1001.9) rotate(-60)" dy="19.19">CPT1A</text>
<text transform="translate(797.99,1001.9) rotate(-60)" dy="19.19">CTSC</text>
<text transform="translate(810.05,1001.9) rotate(-60)" dy="19.19">CXCL8</text>
<text transform="translate(822.10,1001.9) rotate(-60)" dy="19.19">CYR61</text>
<text transform="translate(834.15,1001.9) rotate(-60)" dy="19.19">DDIT4</text>
<text transform="translate(846.20,1001.9) rotate(-60)" dy="19.19">DKK1</text>
<text transform="translate(858.25,1001.9) rotate(-60)" dy="19.19">DUSP6</text>
<text transform="translate(870.30,1001.9) rotate(-60)" dy="19.19">EFNB2</text>
<text transform="translate(882.35,1001.9) rotate(-60)" dy="19.19">EGR1</text>
<text transform="translate(894.40,1001.9) rotate(-60)" dy="19.19">EPHA2</text>
<text transform="translate(906.45,1001.9) rotate(-60)" dy="19.19">ESRP1</text>
<text transform="translate(918.51,1001.9) rotate(-60)" dy="19.19">FOSL1</text>
<text transform="translate(930.56,1001.9) rotate(-60)" dy="19.19">FOXM1</text>
<text transform="translate(942.61,1001.9) rotate(-60)" dy="19.19">GATA3</text>
<text transform="translate(954.66,1001.9) rotate(-60)" dy="19.19">GDF15</text>
<text transform="translate(966.71,1001.9) rotate(-60)" dy="19.19">GJA1</text>
<text transform="translate(978.76,1001.9) rotate(-60)" dy="19.19">GPX3</text>
<text transform="translate(990.81,1001.9) rotate(-60)" dy="19.19">GSTP1</text>
<text transform="translate(1002.86,1001.9) rotate(-60)" dy="19.19">HEY1</text>
<text transform="translate(1014.91,1001.9) rotate(-60)" dy="19.19">HLX</text>
<text transform="translate(1026.96,1001.9) rotate(-60)" dy="19.19">HOXA2</text>
<text transform="translate(1039.02,1001.9) rotate(-60)" dy="19.19">HOXA3</text>
<text transform="translate(1051.07,1001.9) rotate(-60)" dy="19.19">HOXA5</text>
<text transform="translate(1063.12,1001.9) rotate(-60)" dy="19.19">HOXB2</text>
<text transform="translate(1075.17,1001.9) rotate(-60)" dy="19.19">HOXB3</text>
<text transform="translate(1087.22,1001.9) rotate(-60)" dy="19.19">HOXB5</text>
<text transform="translate(1099.27,1001.9) rotate(-60)" dy="19.19">HOXB6</text>
<text transform="translate(1111.32,1001.9) rotate(-60)" dy="19.19">HSD17B2</text>
<text transform="translate(1123.37,1001.9) rotate(-60)" dy="19.19">HSPB1</text>
<text transform="translate(1135.42,1001.9) rotate(-60)" dy="19.19">IGFBP3</text>
<text transform="translate(1147.47,1001.9) rotate(-60)" dy="19.19">INHBA</text>
<text transform="translate(1159.53,1001.9) rotate(-60)" dy="19.19">KCNJ2</text>
<text transform="translate(1171.58,1001.9) rotate(-60)" dy="19.19">KLF4</text>
<text transform="translate(1183.63,1001.9) rotate(-60)" dy="19.19">LAMB3</text>
<text transform="translate(1195.68,1001.9) rotate(-60)" dy="19.19">LDHA</text>
<text transform="translate(1207.73,1001.9) rotate(-60)" dy="19.19">LETM1</text>
<text transform="translate(1219.78,1001.9) rotate(-60)" dy="19.19">LOXL2</text>
<text transform="translate(1231.83,1001.9) rotate(-60)" dy="19.19">MAFB</text>
<text transform="translate(1243.88,1001.9) rotate(-60)" dy="19.19">MAOA</text>
<text transform="translate(1255.93,1001.9) rotate(-60)" dy="19.19">MAP3K8</text>
<text transform="translate(1267.98,1001.9) rotate(-60)" dy="19.19">MEST</text>
<text transform="translate(1280.04,1001.9) rotate(-60)" dy="19.19">MGST1</text>
<text transform="translate(1292.09,1001.9) rotate(-60)" dy="19.19">MMP14</text>
<text transform="translate(1304.14,1001.9) rotate(-60)" dy="19.19">NEDD9</text>
<text transform="translate(1316.19,1001.9) rotate(-60)" dy="19.19">NNMT</text>
<text transform="translate(1328.24,1001.9) rotate(-60)" dy="19.19">NQO1</text>
<text transform="translate(1340.29,1001.9) rotate(-60)" dy="19.19">NR4A1</text>
<text transform="translate(1352.34,1001.9) rotate(-60)" dy="19.19">PBX1</text>
<text transform="translate(1364.39,1001.9) rotate(-60)" dy="19.19">PDK4</text>
<text transform="translate(1376.44,1001.9) rotate(-60)" dy="19.19">PHLDA1</text>
<text transform="translate(1388.49,1001.9) rotate(-60)" dy="19.19">PLAUR</text>
<text transform="translate(1400.55,1001.9) rotate(-60)" dy="19.19">PLK1</text>
<text transform="translate(1412.60,1001.9) rotate(-60)" dy="19.19">PPP1R3C</text>
<text transform="translate(1424.65,1001.9) rotate(-60)" dy="19.19">PTPRZ1</text>
<text transform="translate(1436.70,1001.9) rotate(-60)" dy="19.19">PTX3</text>
<text transform="translate(1448.75,1001.9) rotate(-60)" dy="19.19">QPCT</text>
<text transform="translate(1460.80,1001.9) rotate(-60)" dy="19.19">RAB11FIP1</text>
<text transform="translate(1472.85,1001.9) rotate(-60)" dy="19.19">RASAL2</text>
<text transform="translate(1484.90,1001.9) rotate(-60)" dy="19.19">RBM3</text>
<text transform="translate(1496.95,1001.9) rotate(-60)" dy="19.19">RGS16</text>
<text transform="translate(1509.01,1001.9) rotate(-60)" dy="19.19">SAT1</text>
<text transform="translate(1521.06,1001.9) rotate(-60)" dy="19.19">SCG2</text>
<text transform="translate(1533.11,1001.9) rotate(-60)" dy="19.19">SDC4</text>
<text transform="translate(1545.16,1001.9) rotate(-60)" dy="19.19">SEMA3C</text>
<text transform="translate(1557.21,1001.9) rotate(-60)" dy="19.19">SERPINE2</text>
<text transform="translate(1569.26,1001.9) rotate(-60)" dy="19.19">SERTAD4</text>
<text transform="translate(1581.31,1001.9) rotate(-60)" dy="19.19">SGK1</text>
<text transform="translate(1593.36,1001.9) rotate(-60)" dy="19.19">SLC7A11</text>
<text transform="translate(1605.41,1001.9) rotate(-60)" dy="19.19">SPRY4</text>
<text transform="translate(1617.46,1001.9) rotate(-60)" dy="19.19">STEAP1</text>
<text transform="translate(1629.52,1001.9) rotate(-60)" dy="19.19">TCF7L1</text>
<text transform="translate(1641.57,1001.9) rotate(-60)" dy="19.19">TFAP2A</text>
<text transform="translate(1653.62,1001.9) rotate(-60)" dy="19.19">TMEM158</text>
<text transform="translate(1665.67,1001.9) rotate(-60)" dy="19.19">TNC</text>
<text transform="translate(1677.72,1001.9) rotate(-60)" dy="19.19">TXNIP</text>
<text transform="translate(1689.77,1001.9) rotate(-60)" dy="19.19">UBE2L6</text>
<text transform="translate(1701.82,1001.9) rotate(-60)" dy="19.19">UCHL1</text>
<text transform="translate(1713.87,1001.9) rotate(-60)" dy="19.19">VCAN</text>
<text transform="translate(1725.92,1001.9) rotate(-60)" dy="19.19">VEGFA</text>
<text transform="translate(1737.97,1001.9) rotate(-60)" dy="19.19">ZFHX3</text>
</g>
<defs><linearGradient id="lg" x1="0" y1="0" x2="0" y2="1">
<stop offset="0.0000" stop-color="#d55e00"/>
<stop offset="0.0250" stop-color="#d96514"/>
<stop offset="0.0500" stop-color="#dc6d22"/>
<stop offset="0.0750" stop-color="#e0742e"/>
<stop offset="0.1000" stop-color="#e37b3a"/>
<stop offset="0.1250" stop-color="#e68244"/>
<stop offset="0.1500" stop-color="#e9894f"/>
<stop offset="0.1750" stop-color="#ec9059"/>
<stop offset="0.2000" stop-color="#ef9764"/>
<stop offset="0.2250" stop-color="#f19f6e"/>
<stop offset="0.2500" stop-color="#f4a678"/>
<stop offset="0.2750" stop-color="#f6ad83"/>
<stop offset="0.3000" stop-color="#f8b48d"/>
<stop offset="0.3250" stop-color="#fabb98"/>
<stop offset="0.3500" stop-color="#fbc2a3"/>
<stop offset="0.3750" stop-color="#fcc9ad"/>
<stop offset="0.4000" stop-color="#fed0b8"/>
<stop offset="0.4250" stop-color="#fed8c3"/>
<stop offset="0.4500" stop-color="#ffdfce"/>
<stop offset="0.4750" stop-color="#ffe6d9"/>
<stop offset="0.5000" stop-color="#ffede4"/>
<stop offset="0.5250" stop-color="#fff5ef"/>
<stop offset="0.5500" stop-color="#fffcfa"/>
<stop offset="0.5750" stop-color="#fbfdfe"/>
<stop offset="0.6000" stop-color="#f5fafe"/>
<stop offset="0.6250" stop-color="#eef6fd"/>
<stop offset="0.6500" stop-color="#e8f3fc"/>
<stop offset="0.6750" stop-color="#e1effb"/>
<stop offset="0.7000" stop-color="#dbecfa"/>
<stop offset="0.7250" stop-color="#d4e8f9"/>
<stop offset="0.7500" stop-color="#cde5f8"/>
<stop offset="0.7750" stop-color="#c6e2f7"/>
<stop offset="0.8000" stop-color="#bfdef6"/>
<stop offset="0.8250" stop-color="#b8dbf5"/>
<stop offset="0.8500" stop-color="#b1d8f4"/>
<stop offset="0.8750" stop-color="#aad4f3"/>
<stop offset="0.9000" stop-color="#a3d1f2"/>
<stop offset="0.9250" stop-color="#9bcef1"/>
<stop offset="0.9500" stop-color="#94caf0"/>
<stop offset="0.9750" stop-color="#8cc7ef"/>
<stop offset="1.0000" stop-color="#84c4ee"/>
</linearGradient></defs>
<rect x="1789.3" y="408.0" width="46.0" height="231.0" fill="url(#lg)"/>
<g stroke="#fff" stroke-width="1">
<line x1="1789.3" x2="1798.5" y1="415.0" y2="415.0"/>
<line x1="1826.1" x2="1835.3" y1="415.0" y2="415.0"/>
<line x1="1789.3" x2="1798.5" y1="476.2" y2="476.2"/>
<line x1="1826.1" x2="1835.3" y1="476.2" y2="476.2"/>
<line x1="1789.3" x2="1798.5" y1="537.4" y2="537.4"/>
<line x1="1826.1" x2="1835.3" y1="537.4" y2="537.4"/>
<line x1="1789.3" x2="1798.5" y1="598.6" y2="598.6"/>
<line x1="1826.1" x2="1835.3" y1="598.6" y2="598.6"/>
</g>
<g font-size="23.47" fill="#000">
<text x="1850.0" y="423.9">0.8</text>
<text x="1850.0" y="485.1">0.4</text>
<text x="1850.0" y="546.3">0.0</text>
<text x="1850.0" y="607.5">-0.4</text>
</g>
<text x="1789" y="389.5" font-size="28.7" fill="#000">weight</text>
</svg></body></html>
